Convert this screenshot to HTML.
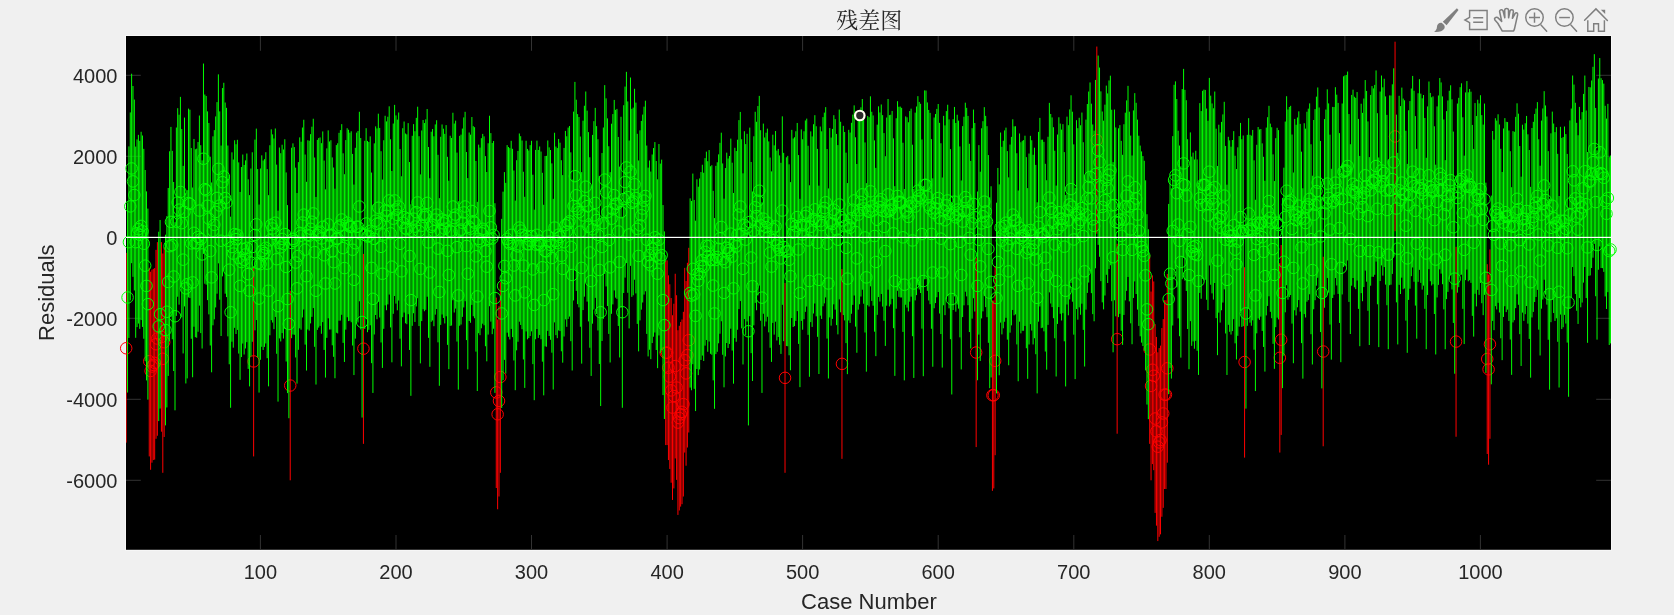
<!DOCTYPE html>
<html lang="zh">
<head>
<meta charset="utf-8">
<title>残差图</title>
<style>
  html, body { margin: 0; padding: 0; background: #f0f0f0; }
  body { width: 1674px; height: 615px; overflow: hidden; position: relative; }
  svg { position: absolute; left: 0; top: 0; display: block; will-change: transform; }
  .lbl { font-family: "Liberation Sans", sans-serif; fill: #262626; }
  .tick { font-size: 20px; }
  .axl { font-size: 22px; }
  .ttl { font-family: "Liberation Serif", "Noto Serif CJK SC", serif; font-size: 22px; fill: #262626; font-weight: 400; }
  .ico { fill: none; stroke: #7f7f7f; stroke-width: 1.45; stroke-linecap: round; stroke-linejoin: round; }
  .icb { fill: none; stroke: #7f7f7f; stroke-width: 1.45; stroke-linecap: butt; stroke-linejoin: miter; }
  .icf { fill: #7f7f7f; stroke: none; }
</style>
</head>
<body>
<svg width="1674" height="615" viewBox="0 0 1674 615">
  <defs>
    <clipPath id="axclip"><rect x="126" y="36" width="1485" height="513.8"/></clipPath>
  </defs>

  <!-- axes background -->
  <rect x="125.3" y="35.3" width="1486.4" height="515.2" fill="#fbfbfb"/>
  <rect x="126" y="36" width="1485" height="513.8" fill="#000"/>

  <!-- tick marks -->
  <g stroke="#333333" stroke-width="1" fill="none">
    <path d="M260.4 549.8v-14.8M396 549.8v-14.8M531.5 549.8v-14.8M667.1 549.8v-14.8M802.6 549.8v-14.8M938.2 549.8v-14.8M1073.8 549.8v-14.8M1209.3 549.8v-14.8M1344.9 549.8v-14.8M1480.4 549.8v-14.8"/>
    <path d="M260.4 36v14.8M396 36v14.8M531.5 36v14.8M667.1 36v14.8M802.6 36v14.8M938.2 36v14.8M1073.8 36v14.8M1209.3 36v14.8M1344.9 36v14.8M1480.4 36v14.8"/>
    <path d="M126 75.3h14.8M126 156.3h14.8M126 237.3h14.8M126 318.3h14.8M126 399.3h14.8M126 480.3h14.8"/>
    <path d="M1611 75.3h-14.8M1611 156.3h-14.8M1611 237.3h-14.8M1611 318.3h-14.8M1611 399.3h-14.8M1611 480.3h-14.8"/>
  </g>

  <!-- error bars : red (outliers) -->
  <g clip-path="url(#axclip)">
    <path stroke="#ff0000" stroke-width="1" fill="none" d="M126.2 252.89V442.63M149.25 267.68V456.41M150.6 271.73V469.77M151.96 269.7V462.68M153.31 268.89V460.05M154.67 268.08V459.64M156.02 249.86V438.79M157.38 242.16V435.75M161.45 242.16V431.7M162.8 253.5V472.81M164.16 247.43V436.97M253.63 266.66V456.41M290.23 290.76V480.3M363.43 253.91V443.85M496.28 297.64V488M497.64 319.51V509.26M498.99 306.15V496.5M500.35 282.25V472.81M665.73 260.38V445.07M667.09 260.38V445.07M668.44 275.37V460.05M669.8 284.28V468.96M671.16 298.05V482.73M672.51 315.26V499.94M673.87 303.72V488.4M675.22 273.75V458.43M676.58 295.22V479.89M677.93 330.25V514.93M679.29 325.79V510.47M680.64 321.94V506.62M682 319.51V504.19M683.36 311.82V496.5M684.71 267.88V452.56M686.07 281.04V465.72M687.42 262.81V447.5M688.78 247.83V432.51M785.03 283.06V472.81M841.96 269.09V458.84M976.17 257.75V447.09M992.43 300.48V490.83M993.79 300.48V488.4M995.15 266.06V455.19M1096.82 46.55V233.66M1117.15 243.78V433.73M1149.69 255.12V443.85M1151.04 291.57V480.3M1152.4 275.37V464.1M1153.75 281.44V470.18M1155.11 324.17V512.9M1156.46 336.93V525.66M1157.82 352.32V541.05M1159.17 348.07V536.8M1160.53 345.64V534.37M1161.89 328.02V516.75M1163.24 319.11V507.84M1164.6 300.28V489.01M1165.95 300.28V489.01M1167.31 273.95V462.68M1244.58 267.27V457.62M1279.82 263.02V452.56M1281.18 245V434.94M1323.2 256.74V446.28M1395.05 41.69V231.23M1456.05 246.82V436.76M1487.23 264.23V453.98M1488.59 274.56V464.71M1489.94 249.45V438.79"/>
  </g>
  <g fill="none" stroke="#ff0000" stroke-width="1">
<circle cx="126.2" cy="348.27" r="5.75"/>
<circle cx="149.25" cy="361.23" r="5.75"/>
<circle cx="150.6" cy="370.95" r="5.75"/>
<circle cx="151.96" cy="366.5" r="5.75"/>
<circle cx="153.31" cy="364.88" r="5.75"/>
<circle cx="154.67" cy="362.85" r="5.75"/>
<circle cx="156.02" cy="344.22" r="5.75"/>
<circle cx="157.38" cy="338.55" r="5.75"/>
<circle cx="161.45" cy="336.93" r="5.75"/>
<circle cx="162.8" cy="358.8" r="5.75"/>
<circle cx="164.16" cy="342.2" r="5.75"/>
<circle cx="253.63" cy="361.43" r="5.75"/>
<circle cx="290.23" cy="385.53" r="5.75"/>
<circle cx="363.43" cy="348.68" r="5.75"/>
<circle cx="496.28" cy="392.42" r="5.75"/>
<circle cx="497.64" cy="414.29" r="5.75"/>
<circle cx="498.99" cy="400.92" r="5.75"/>
<circle cx="500.35" cy="377.02" r="5.75"/>
<circle cx="665.73" cy="352.73" r="5.75"/>
<circle cx="667.09" cy="352.73" r="5.75"/>
<circle cx="668.44" cy="367.71" r="5.75"/>
<circle cx="669.8" cy="376.62" r="5.75"/>
<circle cx="671.16" cy="390.39" r="5.75"/>
<circle cx="672.51" cy="407.6" r="5.75"/>
<circle cx="673.87" cy="396.06" r="5.75"/>
<circle cx="675.22" cy="366.09" r="5.75"/>
<circle cx="676.58" cy="387.56" r="5.75"/>
<circle cx="677.93" cy="422.59" r="5.75"/>
<circle cx="679.29" cy="418.13" r="5.75"/>
<circle cx="680.64" cy="414.29" r="5.75"/>
<circle cx="682" cy="411.86" r="5.75"/>
<circle cx="683.36" cy="404.16" r="5.75"/>
<circle cx="684.71" cy="360.22" r="5.75"/>
<circle cx="686.07" cy="373.38" r="5.75"/>
<circle cx="687.42" cy="355.16" r="5.75"/>
<circle cx="688.78" cy="340.17" r="5.75"/>
<circle cx="785.03" cy="377.84" r="5.75"/>
<circle cx="841.96" cy="363.86" r="5.75"/>
<circle cx="976.17" cy="352.52" r="5.75"/>
<circle cx="992.43" cy="395.25" r="5.75"/>
<circle cx="993.79" cy="395.25" r="5.75"/>
<circle cx="995.15" cy="360.83" r="5.75"/>
<circle cx="1096.82" cy="140.1" r="5.75"/>
<circle cx="1117.15" cy="339.16" r="5.75"/>
<circle cx="1149.69" cy="349.49" r="5.75"/>
<circle cx="1151.04" cy="385.94" r="5.75"/>
<circle cx="1152.4" cy="369.74" r="5.75"/>
<circle cx="1153.75" cy="375.81" r="5.75"/>
<circle cx="1155.11" cy="418.54" r="5.75"/>
<circle cx="1156.46" cy="431.3" r="5.75"/>
<circle cx="1157.82" cy="446.69" r="5.75"/>
<circle cx="1159.17" cy="442.43" r="5.75"/>
<circle cx="1160.53" cy="440" r="5.75"/>
<circle cx="1161.89" cy="422.38" r="5.75"/>
<circle cx="1163.24" cy="413.48" r="5.75"/>
<circle cx="1164.6" cy="394.64" r="5.75"/>
<circle cx="1165.95" cy="394.64" r="5.75"/>
<circle cx="1167.31" cy="368.32" r="5.75"/>
<circle cx="1244.58" cy="362.04" r="5.75"/>
<circle cx="1279.82" cy="357.79" r="5.75"/>
<circle cx="1281.18" cy="339.76" r="5.75"/>
<circle cx="1323.2" cy="351.51" r="5.75"/>
<circle cx="1395.05" cy="136.46" r="5.75"/>
<circle cx="1456.05" cy="341.59" r="5.75"/>
<circle cx="1487.23" cy="359" r="5.75"/>
<circle cx="1488.59" cy="369.33" r="5.75"/>
<circle cx="1489.94" cy="344.22" r="5.75"/>
  </g>

  <!-- error bars : green -->
  <g clip-path="url(#axclip)">
    <path stroke="#00ff00" stroke-width="1" fill="none" d="M127.56 202.4V392.56M128.91 146.4V337.92M130.27 112.43V300.36M131.62 73.73V263.17M132.98 85.99V276.83M134.33 99.56V290.48M135.69 146.59V337.81M137.04 139.41V327.09M138.4 134.85V323.55M139.76 140.87V328.87M141.11 131.78V320.06M142.47 135.5V326.95M143.82 148.84V338.72M145.18 170.01V361.29M146.53 191.39V380.41M147.89 208.61V399.64M158.73 231.73V421.07M160.09 219.97V408.53M165.51 234.71V425.38M166.87 216.1V407.45M168.22 187.99V375.93M169.58 151.27V341.2M170.94 126.9V316.92M172.29 150.89V339.28M173.65 182.01V371.02M175 222.23V410.32M176.36 127.52V315.86M177.71 108.2V296.74M179.07 114.71V304.65M180.42 96.86V287.02M181.78 128.99V317.32M183.14 165.87V353.43M184.49 117.57V306.41M185.85 193.2V383.46M187.2 190.15V378.41M188.56 108.64V297.42M189.91 109.72V298.06M191.27 148.02V338.76M192.62 187.53V377.26M193.98 138.96V326.73M195.34 149.26V337.18M196.69 148.64V337.76M198.05 142.02V331.77M199.4 115.52V305.62M200.76 145.2V333.09M202.11 160.35V348.53M203.47 63.56V253.9M204.83 94.54V283.72M206.18 95.99V284.65M207.54 111.38V300.14M208.89 122.98V314.36M210.25 156.71V345.49M211.6 182.49V372.3M212.96 136.34V325.3M214.31 130.14V319.35M215.67 116.43V307.44M217.03 102.12V293.68M218.38 74.36V263.35M219.74 111.38V299.7M221.09 145.55V336.01M222.45 88.05V276.39M223.8 82.78V270.32M225.16 102.53V293.69M226.52 107.85V297.09M227.87 145.53V336.36M229.23 175.11V364.27M230.58 216.68V407.77M231.94 152.33V341.71M233.29 159.53V347.7M234.65 140.27V327.85M236 144.25V334M237.36 139.82V329.92M238.72 162.37V353.57M240.07 191.96V379.84M241.43 167.03V357.06M242.78 154.54V343.55M244.14 164.95V354.51M245.49 160.38V348.48M246.85 153.5V342.16M248.2 179.3V368.92M249.56 195.13V386.39M250.92 168.55V356.5M252.27 152.27V341.77M254.98 139.57V330.35M256.34 128.62V320.06M257.69 169.06V357.38M259.05 204.57V392.59M260.41 168.47V359.81M261.76 155.34V346.8M263.12 160.51V349.98M264.47 159.18V346.91M265.83 152.2V343.46M267.18 169.1V358.18M268.54 195.17V386.35M269.89 145.25V335.27M271.25 129.32V320.17M272.61 134.39V322.56M273.96 138.49V329.18M275.32 128.51V316.93M276.67 164.63V353.78M278.03 210.68V401.62M279.38 147.53V338.41M280.74 153.21V341.46M282.1 144.72V333.12M283.45 149.46V338.59M284.81 139.25V328.87M286.16 172.43V361.5M287.52 205.09V393.1M288.87 229.71V418.23M291.58 147.74V338.2M292.94 143.35V334.49M294.3 147.1V334.79M295.65 167.67V357.46M297.01 193.04V383.62M298.36 162.13V349.8M299.72 137.39V328.3M301.07 141.71V329.7M302.43 127.53V317.47M303.78 119.75V309.49M305.14 154.54V344.6M306.5 181.8V370.56M307.85 140.26V329.48M309.21 140.74V330.61M310.56 134.18V323.41M311.92 126.69V316.87M313.27 118.74V308.07M314.63 157.52V346.81M315.99 196.96V384.56M317.34 139.86V329.88M318.7 138.1V327.59M320.05 137.42V325.89M321.41 143.17V333.78M322.76 131.43V322.11M324.12 160.56V349.93M325.47 189.35V377.59M326.83 148.4V337.83M328.19 130.37V318.31M329.54 141.49V329.52M330.9 140.24V329.5M332.25 157.42V345.31M333.61 167.53V356.84M334.96 188.68V378.26M336.32 145.08V332.76M337.68 143.31V333.4M339.03 132.85V320.69M340.39 130.11V320.6M341.74 124.15V314.81M343.1 153.31V342.89M344.45 174.21V361.95M345.81 140.09V329.65M347.16 128.2V317.24M348.52 129.74V321.1M349.88 132.7V320.77M351.23 131.28V322.26M352.59 153.95V345.5M353.94 184.59V375.06M355.3 147.82V338.63M356.65 132.62V320.92M358.01 130.99V322.48M359.36 111.77V301.27M360.72 138.06V329.45M362.08 226.33V417.56M364.79 140.78V328.96M366.14 128.18V318.88M367.5 140.91V332.2M368.85 142.01V329.79M370.21 136.35V325.29M371.57 172.57V363.15M372.92 204.78V392.94M374.28 143.35V334.49M375.63 126.38V315.01M376.99 128.4V319.22M378.34 113.69V301.78M379.7 127.95V317.49M381.05 151.23V342.47M382.41 179.57V367.93M383.77 140.25V328.83M385.12 115.79V305.35M386.48 121.42V310.23M387.83 116.74V304.41M389.19 106.32V294.57M390.54 139.24V327.41M391.9 171.01V362.32M393.26 123.54V313.8M394.61 104.87V296.02M395.97 115.41V303.61M397.32 119.6V310.29M398.68 112.53V300.51M400.03 149.03V338.69M401.39 176.27V366.37M402.74 128.23V317.21M404.1 121.52V312.58M405.46 133.49V323.25M406.81 134.33V324.2M408.17 123.13V314.21M409.52 162.04V349.98M410.88 204.31V395.84M412.23 135.79V325.85M413.59 124.11V313.23M414.94 131.22V321.96M416.3 117.87V306.46M417.66 106.71V298.23M419.01 136.19V326.05M420.37 174.4V363.38M421.72 130.48V321.09M423.08 119.97V309.27M424.43 123.02V311.25M425.79 119.33V309.86M427.15 109.02V296.73M428.5 147V337.83M429.86 178.26V366.81M431.21 131.72V321.82M432.57 128.99V320.5M433.92 136.3V326.19M435.28 124.43V314.63M436.63 120.23V309.01M437.99 154.83V342.35M439.35 198.15V385.8M440.7 136.76V324.88M442.06 124.47V314.49M443.41 128.71V317.98M444.77 133.87V323.46M446.12 125.12V316.27M447.48 156.82V344.87M448.84 180.75V369.18M450.19 135.74V325.9M451.55 137.96V325.57M452.9 112.76V300.28M454.26 123.54V312.5M455.61 120.65V308.59M456.97 152.6V341.56M458.32 201.21V389.63M459.68 135.88V325.76M461.04 134.63V324.53M462.39 128.55V316.89M463.75 117.41V307.45M465.1 111.8V301.24M466.46 152.02V340.08M467.81 178.1V369.4M469.17 132.52V321.02M470.52 134.66V322.78M471.88 117.02V304.93M473.24 126.16V316.26M474.59 127.2V318.24M475.95 160.95V351.63M477.3 201.86V391M478.66 144.63V333.21M480.01 147.62V335.18M481.37 138.18V328.3M482.73 133.9V323.69M484.08 136.35V325.29M485.44 156.1V346.23M486.79 172.01V361.32M488.15 143.26V334.58M489.5 115.73V306.22M490.86 133.12V321.64M492.21 142.98V334.16M493.57 141.02V328.72M494.93 203.22V392.88M501.7 218.86V408.02M503.06 191.66V380.14M504.42 172.1V359.85M505.77 182.87V373.54M507.13 145.14V332.7M508.48 147.03V336.78M509.84 148.12V339.44M511.19 140.82V328.92M512.55 148.81V337.13M513.9 170.49V360.47M515.26 200.63V390.2M516.62 160.23V350.34M517.97 150.94V341.75M519.33 133.47V321.69M520.68 136.18V324.95M522.04 140.5V329.24M523.39 171.75V359.46M524.75 196.8V387.92M526.1 140.74V331.43M527.46 148.93V339.34M528.82 150.53V338.07M530.17 145.13V336.06M531.53 140.82V331.35M532.88 174.72V364.12M534.24 209.68V400.19M535.59 149.93V339.27M536.95 140.65V329.09M538.31 149.98V337.93M539.66 146.49V334.95M541.02 151.56V339.24M542.37 172.8V361.68M543.73 204.8V395.35M545.08 156.02V346.35M546.44 155.84V346.78M547.79 140.48V330.88M549.15 147.38V335.97M550.51 150.03V339.79M551.86 163.4V352.68M553.22 198.85V389.56M554.57 132.76V322.4M555.93 146.56V335.15M557.28 148.06V338.18M558.64 138.98V330.4M560 142.7V331.09M561.35 160.24V351.31M562.71 175.1V362.68M564.06 147.94V336.51M565.42 130.91V319.39M566.77 136.29V326.82M568.13 127.58V318.92M569.48 126.03V316.57M570.84 152.35V341.19M572.2 179.43V370.5M573.55 111.64V300.48M574.91 81.9V270.39M576.26 99.69V290.88M577.62 114.09V304.16M578.97 117.03V307.35M580.33 136.54V326.75M581.68 172.14V363.62M583.04 120.66V310.08M584.4 105.75V296.67M585.75 91.5V281.85M587.11 110.63V301.62M588.46 132.13V321.41M589.82 157.27V347.72M591.17 186.13V375.95M592.53 134.92V323.68M593.89 121.17V309.54M595.24 107.86V297.89M596.6 126.13V313.96M597.95 139.27V330.47M599.31 175.88V363.98M600.66 218.41V406.04M602.02 153.05V340.99M603.37 127.53V318.81M604.73 85.13V274.04M606.09 98.35V286.44M607.44 118.37V306.01M608.8 146.24V333.92M610.15 172.16V362.48M611.51 123.72V313.81M612.86 114.08V304.42M614.22 99.93V290.43M615.58 109.87V297.66M616.93 108.93V298.84M618.29 136.97V325.96M619.64 166.63V357.45M621 116.77V307.61M622.35 216.66V407.79M623.71 105.21V292.99M625.06 86.57V277.6M626.42 71.83V263.05M627.78 101.45V292.79M629.13 140.5V328.45M630.49 77.52V265.86M631.84 108.89V296.86M633.2 107.62V295.28M634.55 88.77V279.72M635.91 102.61V293.42M637.26 133.82V323.9M638.62 160.5V351.36M639.98 130.33V320.4M641.33 120.94V309.62M642.69 114.59V302.5M644.04 106.68V294.59M645.4 100.7V291.28M646.75 145.56V333.9M648.11 167.6V356.41M649.47 160.5V349.74M650.82 171.57V359.17M652.18 154.49V343.04M653.53 148.06V336.72M654.89 142.09V332.51M656.24 160.99V350M657.6 179.34V368.16M658.95 144.02V335.44M660.31 163.62V353.18M661.67 159.64V350.6M663.02 205.07V395.08M664.38 231.36V419.01M690.13 198.39V387.58M691.49 200.98V390.26M692.84 173.57V364.21M694.2 199.93V388.85M695.56 220.69V411.05M696.91 179.31V369M698.27 186.72V375.11M699.62 178.44V369.45M700.98 172.06V359.94M702.33 164.74V355.57M703.69 172.78V360.98M705.05 158.12V345.64M706.4 151.64V339.97M707.76 161.19V351.79M709.11 150.07V341.54M710.47 166.28V353.81M711.82 165.23V354.73M713.18 190.82V380.33M714.53 218.07V408.81M715.89 165.85V354.11M717.25 162.27V351.79M718.6 154.37V343.29M719.96 142.84V333.73M721.31 132.69V321.26M722.67 163.45V354.78M724.02 198.66V387.32M725.38 168.06V356.44M726.74 152.66V343M728.09 158.52V348.05M729.45 155.99V343.95M730.8 138.61V328.7M732.16 162.7V350.55M733.51 192.98V383.68M734.87 147.8V338.14M736.22 151.06V341.77M737.58 139.7V329.76M738.94 120.14V309.1M740.29 111.95V301.09M741.65 139.24V328.35M743 173.33V364.45M744.36 131.22V319.08M745.71 144.12V335.24M747.07 133.83V321.45M748.42 237.09V425.43M749.78 127.62V316.2M751.14 161.97V353.14M752.49 191.47V381.02M753.85 136.29V325.35M755.2 111.78V302.88M756.56 121.79V310.25M757.91 106.03V295.42M759.27 95.89V285.56M760.63 130.21V320.78M761.98 202.36V392.93M763.34 123.6V313.74M764.69 137.47V326.4M766.05 132.71V321.54M767.4 128.65V316.79M768.76 141.42V332.35M770.11 157.56V347.76M771.47 171.4V361.92M772.83 134.69V322.9M774.18 145.35V334.64M775.54 131.04V321.69M776.89 150.61V340.47M778.25 148.96V336.98M779.6 155.41V344.8M780.96 162.81V353.91M782.32 116.33V304.81M783.67 152.87V341.17M786.38 157.3V346.04M787.74 155.89V346.25M789.09 164.34V355.27M790.45 182.11V370.25M791.8 129.86V318.01M793.16 138.5V327.02M794.52 137.28V326.12M795.87 131.27V320.9M797.23 122.97V311.13M798.58 155.06V343.91M799.94 198.85V387.13M801.29 129.42V320.88M802.65 139.25V329.71M804 131.28V319.21M805.36 120.46V311.87M806.72 118.63V306.56M808.07 145.79V334.86M809.43 185.29V376.79M810.78 131.4V322.14M812.14 136.43V326.91M813.49 124.22V313.5M814.85 115.2V303.51M816.21 126.25V316.35M817.56 148.89V336.84M818.92 185.65V374M820.27 126.56V315.64M821.63 131.3V318.95M822.98 117.13V306.26M824.34 112.64V303.36M825.69 107.11V297.43M827.05 149.02V338.56M828.41 188.43V378.51M829.76 128.02V317.42M831.12 137.57V325.66M832.47 128.92V318.88M833.83 115.18V304.34M835.18 119.14V309.65M836.54 133.94V325.13M837.9 145.1V334.36M839.25 109.58V299.41M840.61 121.78V312.32M843.32 125.85V315.07M844.67 131.98V320.42M846.03 152.67V343.11M847.38 183.07V374.15M848.74 129.83V320.47M850.1 132.56V322.91M851.45 122.81V313.78M852.81 114.59V304.85M854.16 105.39V295.5M855.52 137.28V326.63M856.87 163.97V352.75M858.23 119.59V309.65M859.59 116.33V304.24M860.94 107.3V296.52M862.3 99.03V289.71M863.65 113.31V303.71M865.01 142.44V332.5M866.36 183.13V371.66M867.72 115.95V305.19M869.07 117.17V306.53M870.43 96.32V286.35M871.79 111.76V300.93M873.14 115.45V305.69M874.5 140.39V331.68M875.85 167.88V356.13M877.21 124.66V314.83M878.56 106.33V296.99M879.92 112.48V301.57M881.27 104.48V293.98M882.63 115.11V306.58M883.99 133.08V320.75M885.34 156.21V345.93M886.7 117.56V305.73M888.05 99.03V289.71M889.41 115.12V306.44M890.76 114.76V304.38M892.12 110.94V298.86M893.48 138.35V328.19M894.83 186.19V375.89M896.19 118.28V308.7M897.54 101.2V290.78M898.9 106.76V296.86M900.25 106.6V297.47M901.61 107.86V297.49M902.96 142.74V331.92M904.32 189.01V380.36M905.68 116.39V304.75M907.03 117.31V307.59M908.39 122.29V311.39M909.74 111.07V301.67M911.1 108.67V296.68M912.45 144.71V336.21M913.81 188.99V377.95M915.17 112.65V300.39M916.52 106.51V295.14M917.88 96.16V285.29M919.23 101.93V289.5M920.59 103.81V293.03M921.94 139.44V328.66M923.3 185.87V376.21M924.65 90.38V279.32M926.01 90.56V279.15M927.37 102.45V290.87M928.72 109.95V300.47M930.08 112.88V304.21M931.43 139.1V328.75M932.79 178.33V366.74M934.14 117.5V308.26M935.5 113.97V303.07M936.85 108.91V297.29M938.21 104V292.03M939.57 122.87V313.53M940.92 143.26V334.05M942.28 177.49V367.58M943.63 115.86V305.28M944.99 125.38V315.17M946.34 111.08V299.51M947.7 104.74V296.15M949.06 119.41V308.35M950.41 149.09V339.19M951.77 203.65V394.48M953.12 119.21V310.03M954.48 106.95V296.37M955.83 122.98V311.69M957.19 114.76V304.49M958.54 120.61V308.63M959.9 146.44V337.33M961.26 180.49V369.44M962.61 126.12V317.08M963.97 116.74V305.34M965.32 102.69V291.72M966.68 107.83V296.37M968.03 115.95V305.19M969.39 143.79V332.06M970.75 160.95V348.48M972.1 128.21V318.64M973.46 109.56V298.21M974.81 123.03V311.54M977.52 191.53V380.27M978.88 145.14V334.59M980.23 171.72V360.98M981.59 128.31V318.41M982.95 121.2V311.38M984.3 107.17V296.15M985.66 115.87V307.14M987.01 126.19V317.17M988.37 155.05V342.8M989.72 197.29V388.16M991.08 186.26V377.44M996.5 202.7V393.4M997.86 167.96V356.05M999.21 184.38V375.27M1000.57 132.54V322.62M1001.92 146.82V334.4M1003.28 140.76V328.32M1004.64 130.4V321.77M1005.99 127.63V317.81M1007.35 151.11V339.64M1008.7 177.36V365.28M1010.06 144.57V332.67M1011.41 136.9V325.36M1012.77 119.29V309.95M1014.12 126.38V315.3M1015.48 126.22V314.36M1016.84 153.24V344.42M1018.19 190.54V381.26M1019.55 133.48V321.68M1020.9 142.24V333.37M1022.26 140.81V330.79M1023.61 140.07V330.75M1024.97 135.71V325.93M1026.33 157.11V348.24M1027.68 188.12V378.82M1029.04 153.56V344.47M1030.39 135.85V324.17M1031.75 140.27V330.59M1033.1 154.78V344.45M1034.46 147.71V338.23M1035.81 164.92V354.21M1037.17 202.3V393.39M1038.53 131.9V321.66M1039.88 117.9V306.48M1041.24 139.69V328.15M1042.59 139.62V327.69M1043.95 141.86V331.37M1045.3 163.81V351.56M1046.66 180.26V369.67M1048.01 136.77V324.87M1049.37 102.86V292.36M1050.73 113.97V303.5M1052.08 117.43V307.13M1053.44 127.22V318.22M1054.79 150.73V338.27M1056.15 185.58V376.5M1057.5 134.52V323.93M1058.86 117.29V307.09M1060.22 123.57V313.78M1061.57 129.61V320.53M1062.93 124.15V313.19M1064.28 152.1V341.31M1065.64 195.06V386.46M1066.99 116.66V304.48M1068.35 125.2V315.3M1069.7 109.4V299.49M1071.06 95.29V282.92M1072.42 111.72V301.71M1073.77 144.37V334.65M1075.13 187.83V379.11M1076.48 120.19V309.05M1077.84 128.19V319.68M1079.19 117.77V307.36M1080.55 125.28V314.76M1081.91 112.56V303.72M1083.26 142.23V329.88M1084.62 176.11V366.53M1085.97 119.6V309.64M1087.33 104.03V292.92M1088.68 91.54V282.55M1090.04 82.46V271.45M1091.39 103.7V293.14M1092.75 124.48V314.12M1094.11 130.64V321.28M1095.46 79.94V268.3M1098.17 55.59V244.86M1099.53 67.56V256.79M1100.88 91.39V281.15M1102.24 111.5V302.37M1103.59 120.67V309.38M1104.95 104.67V295.53M1106.31 85.62V274.77M1107.66 93.42V282.97M1109.02 80.44V269.06M1110.37 75.69V265.26M1111.73 109.72V301.18M1113.08 162.14V352.3M1114.44 109.54V300.26M1115.8 127.43V316.29M1118.51 128.32V317.12M1119.86 125.12V313.84M1121.22 140.87V330.76M1122.57 154.81V344.9M1123.93 124.24V314.94M1125.28 112.68V300.36M1126.64 100.41V290.86M1128 85.86V276.96M1129.35 111.66V301.38M1130.71 135.6V323.32M1132.06 155.49V344.22M1133.42 110.43V297.97M1134.77 93.14V281.42M1136.13 102.8V294.04M1137.49 119.63V309.61M1138.84 135.73V325.91M1140.2 145.59V336.3M1141.55 151.42V342.62M1142.91 156.07V346.07M1144.26 160.76V350.77M1145.62 180.34V370.4M1146.97 214.22V404.56M1148.33 229.21V419.14M1168.66 203.93V394.2M1170.02 179.56V367.94M1171.38 188.36V378.58M1172.73 136.14V325.5M1174.09 84.82V275.42M1175.44 81.37V269.3M1176.8 99.03V287.28M1178.15 130.72V318.39M1179.51 145.56V336.21M1180.86 166.4V357.61M1182.22 89.06V279.23M1183.58 68.88V257.89M1184.93 89.83V280.67M1186.29 100.23V290.94M1187.64 139.23V329.02M1189 180.69V369.24M1190.35 132.4V321.14M1191.71 156.61V345.83M1193.07 152.62V341.42M1194.42 159.51V348.77M1195.78 150.75V340.86M1197.13 159.47V350.77M1198.49 187.17V374.91M1199.84 103.11V292.92M1201.2 111.07V298.75M1202.55 90.85V278.85M1203.91 89.62V280.42M1205.27 89.93V279.78M1206.62 108.55V299.79M1207.98 120.77V310.09M1209.33 77.9V265.48M1210.69 95.66V284.74M1212.04 103.46V293.38M1213.4 108.27V299.58M1214.75 91.54V283.03M1216.11 128.68V318.12M1217.47 165.99V355.18M1218.82 124.71V312.63M1220.18 132.46V322.59M1221.53 121.9V310.28M1222.89 114.42V302.55M1224.24 101.8V289.37M1225.6 145.95V333.49M1226.96 184.68V374.97M1228.31 136.82V324.82M1229.67 140.37V331.8M1231.02 146.68V334.55M1232.38 140.03V331.07M1233.73 131.13V319.17M1235.09 155.76V343.34M1236.44 169.02V359.45M1237.8 147.32V335.82M1239.16 136.14V326.63M1240.51 122.91V311.19M1241.87 139.23V326.95M1243.22 135.5V326.14M1245.93 218.24V408.64M1247.29 134.86V325.84M1248.65 118.17V308.64M1250 134.81V322.66M1251.36 135.66V325.72M1252.71 129.96V320.34M1254.07 160.33V349.71M1255.42 199.77V391.06M1256.78 144.81V333.35M1258.13 127.01V318.43M1259.49 129.44V319.86M1260.85 129.05V316.61M1262.2 143.37V330.94M1263.56 156.81V346.96M1264.91 180.77V371.59M1266.27 127.59V315.42M1267.62 117.16V305.93M1268.98 105.82V296.29M1270.33 123.64V311.83M1271.69 127.22V318.22M1273.05 154.37V343.85M1274.4 181.09V368.84M1275.76 138.18V327.18M1277.11 127.8V317.64M1278.47 130.15V319.45M1282.54 197.86V388.12M1283.89 167.68V355.79M1285.25 121.55V312.3M1286.6 96.23V285.22M1287.96 109.5V299.63M1289.31 107V297.07M1290.67 105.84V295.05M1292.02 134.53V323.61M1293.38 172.53V363.23M1294.74 118.95V310.29M1296.09 124.75V315.44M1297.45 117.5V307.31M1298.8 111.36V300.06M1300.16 123.88V311.64M1301.51 151.66V343.12M1302.87 188.29V378.65M1304.23 123.24V314.1M1305.58 128.63V317.49M1306.94 111.75V301.72M1308.29 108.63V300.1M1309.65 103.38V294.27M1311 144.27V334.22M1312.36 175.72V364.49M1313.71 119.99V309.25M1315.07 109.09V300.2M1316.43 96.66V285.7M1317.78 87.48V277.77M1319.14 107.49V297.45M1320.49 140.91V332.05M1321.85 197.59V388.38M1324.56 119.07V307.74M1325.91 109.54V297.06M1327.27 89.35V277.93M1328.63 103.39V292.62M1329.98 134.67V324.56M1331.34 168.82V359.64M1332.69 106.92V298.02M1334.05 107.04V294.73M1335.4 87.18V278.07M1336.76 94.67V285.47M1338.12 102.91V293.93M1339.47 133.11V322.94M1340.83 173.57V362.19M1342.18 103.49V294.45M1343.54 76.3V267.08M1344.89 75.46V265.75M1346.25 74.92V266.13M1347.6 71.56V260.48M1348.96 114.06V301.92M1350.32 144.24V334M1351.67 94.95V285.69M1353.03 89.68V278M1354.38 96.74V287.3M1355.74 97.87V289.16M1357.09 92.04V280.5M1358.45 118.93V308.9M1359.81 155.94V346.2M1361.16 103.72V293.12M1362.52 112.87V301.22M1363.87 98.52V287.07M1365.23 80.06V270.61M1366.58 90.96V281.68M1367.94 121.43V310.81M1369.29 157.13V345.01M1370.65 94.93V285.71M1372.01 86.09V276.73M1373.36 88.39V276.85M1374.72 84.9V274.77M1376.07 70.45V261.59M1377.43 113.19V304.29M1378.78 157.47V347.1M1380.14 91.55V280.99M1381.49 75.52V265.43M1382.85 87.33V275.61M1384.21 78.76V267.05M1385.56 96.39V284.64M1386.92 114.87V305.22M1388.27 160.22V349.21M1389.63 95.42V285.22M1390.98 95.54V284.68M1392.34 84.32V273.93M1393.7 68.32V256.43M1396.41 114.65V302.35M1397.76 152.86V344.42M1399.12 95.81V284.83M1400.47 106.08V294.03M1401.83 87.59V277.66M1403.18 98.57V289.28M1404.54 100.3V288.44M1405.9 130.72V320.65M1407.25 163.9V352.82M1408.61 110.29V299.91M1409.96 101.09V288.69M1411.32 88.52V276.17M1412.67 75.93V267.45M1414.03 90.76V281.78M1415.39 116.09V305.58M1416.74 148.87V338.69M1418.1 93.25V281.83M1419.45 79.19V269.86M1420.81 93.64V282.88M1422.16 98.3V289.65M1423.52 95.01V285.63M1424.87 117.97V308.8M1426.23 157.79V349.21M1427.59 106.43V294.97M1428.94 81.5V269.17M1430.3 92.93V281.26M1431.65 97.28V285.53M1433.01 96.39V284.25M1434.36 126.29V314.01M1435.72 164.69V354.46M1437.07 106.41V297.45M1438.43 95.5V284.87M1439.79 78.04V269.39M1441.14 82.43V273.63M1442.5 96.43V284.21M1443.85 119.44V309.37M1445.21 160.15V349.28M1446.56 111.13V299.13M1447.92 100.48V291.88M1449.28 90.75V279.3M1450.63 85.29V275.1M1451.99 99.33V289.44M1453.34 131.58V322.97M1454.7 183.5V373.72M1457.41 103.55V292.66M1458.76 97.83V287.16M1460.12 87.2V275.36M1461.48 83.27V274.69M1462.83 117.31V308.84M1464.19 155.65V344.06M1465.54 92.43V280.11M1466.9 81.06V269.61M1468.25 92.33V281.27M1469.61 89.03V280.2M1470.97 91.69V282.87M1472.32 124.95V315.86M1473.68 148.91V336.62M1475.03 103.07V293.77M1476.39 116.05V306.44M1477.74 99.75V289.88M1479.1 103.37V294.87M1480.45 95.23V282.98M1481.81 115.11V303.21M1483.17 124.6V315.17M1484.52 103.57V294.89M1485.88 182.67V372.93M1491.3 195.59V384.31M1492.65 131V320.92M1494.01 139.58V330.16M1495.37 118.22V306.16M1496.72 120.61V309.44M1498.08 114.27V302.82M1499.43 124.49V312.51M1500.79 148.8V338.27M1502.14 171.96V360.15M1503.5 128.48V316.96M1504.86 118.14V306.24M1506.21 121.81V312.07M1507.57 122.05V309.62M1508.92 130.5V320.92M1510.28 151.19V339.5M1511.63 187.21V374.87M1512.99 131.13V322.41M1514.34 131.79V320.2M1515.7 116.86V308.16M1517.06 103.31V294.34M1518.41 113.68V304.8M1519.77 146.07V334.15M1521.12 176.66V365.98M1522.48 124.72V312.62M1523.83 129.57V320.85M1525.19 123.27V314.2M1526.55 115.95V306M1527.9 134.3V323.65M1529.26 150.02V338.91M1530.61 186.83V377.68M1531.97 128V317.44M1533.32 121.85V311.91M1534.68 113.94V302.03M1536.03 108.55V296.97M1537.39 102.12V289.86M1538.75 139.27V329.67M1540.1 165.71V355.47M1541.46 120.57V308.67M1542.81 108.48V299.52M1544.17 91.16V279.76M1545.52 105.44V294.63M1546.88 116.5V304.64M1548.23 151.16V339.77M1549.59 198.74V389.66M1550.95 133.33V322.2M1552.3 111.61V299.81M1553.66 123.52V313.03M1555.01 132.14V320.94M1556.37 127.13V318.31M1557.72 153.83V341.8M1559.08 196.03V387.51M1560.44 126.82V314.57M1561.79 137.94V329.08M1563.15 137.04V327.26M1564.5 126.51V314.88M1565.86 134.09V323.54M1567.21 153.91V342.58M1568.57 208.23V396.78M1569.92 120.45V308.79M1571.28 108.55V297.54M1572.64 75.52V267.05M1573.99 84.57V276.13M1575.35 102.79V294.05M1576.7 122.84V310.75M1578.06 135.26V323.95M1579.41 106.9V298.04M1580.77 119.55V307.3M1582.13 112.1V302.56M1583.48 93.91V282.62M1584.84 75.55V267.02M1586.19 110.49V298.07M1587.55 152.03V342.82M1588.9 86.96V275.86M1590.26 87.35V275.43M1591.61 80.49V268.01M1592.97 66.8V257.69M1594.33 54.19V243.83M1595.68 107.95V296.22M1597.04 150.36V339.63M1598.39 78.52V269.72M1599.75 58.05V246.45M1601.1 78.21V268.03M1602.46 80.08V268.16M1603.81 83.64V271.89M1605.17 105.81V296.45M1606.53 118.61V309.01M1607.88 103.86V292.17M1609.24 157.15V344.99M1610.59 155.52V343.38"/>
  </g>
  <g fill="none" stroke="#00ff00" stroke-width="1">
<circle cx="127.56" cy="297.48" r="5.75"/>
<circle cx="128.91" cy="242.16" r="5.75"/>
<circle cx="130.27" cy="206.4" r="5.75"/>
<circle cx="131.62" cy="168.45" r="5.75"/>
<circle cx="132.98" cy="181.41" r="5.75"/>
<circle cx="134.33" cy="195.02" r="5.75"/>
<circle cx="135.69" cy="242.2" r="5.75"/>
<circle cx="137.04" cy="233.25" r="5.75"/>
<circle cx="138.4" cy="229.2" r="5.75"/>
<circle cx="139.76" cy="234.87" r="5.75"/>
<circle cx="141.11" cy="225.92" r="5.75"/>
<circle cx="142.47" cy="231.23" r="5.75"/>
<circle cx="143.82" cy="243.78" r="5.75"/>
<circle cx="145.18" cy="265.65" r="5.75"/>
<circle cx="146.53" cy="285.9" r="5.75"/>
<circle cx="147.89" cy="304.12" r="5.75"/>
<circle cx="158.73" cy="326.4" r="5.75"/>
<circle cx="160.09" cy="314.25" r="5.75"/>
<circle cx="165.51" cy="330.05" r="5.75"/>
<circle cx="166.87" cy="311.77" r="5.75"/>
<circle cx="168.22" cy="281.96" r="5.75"/>
<circle cx="169.58" cy="246.24" r="5.75"/>
<circle cx="170.94" cy="221.91" r="5.75"/>
<circle cx="172.29" cy="245.08" r="5.75"/>
<circle cx="173.65" cy="276.52" r="5.75"/>
<circle cx="175" cy="316.28" r="5.75"/>
<circle cx="176.36" cy="221.69" r="5.75"/>
<circle cx="177.71" cy="202.47" r="5.75"/>
<circle cx="179.07" cy="209.68" r="5.75"/>
<circle cx="180.42" cy="191.94" r="5.75"/>
<circle cx="181.78" cy="223.15" r="5.75"/>
<circle cx="183.14" cy="259.65" r="5.75"/>
<circle cx="184.49" cy="211.99" r="5.75"/>
<circle cx="185.85" cy="288.33" r="5.75"/>
<circle cx="187.2" cy="284.28" r="5.75"/>
<circle cx="188.56" cy="203.03" r="5.75"/>
<circle cx="189.91" cy="203.89" r="5.75"/>
<circle cx="191.27" cy="243.39" r="5.75"/>
<circle cx="192.62" cy="282.39" r="5.75"/>
<circle cx="193.98" cy="232.84" r="5.75"/>
<circle cx="195.34" cy="243.22" r="5.75"/>
<circle cx="196.69" cy="243.2" r="5.75"/>
<circle cx="198.05" cy="236.9" r="5.75"/>
<circle cx="199.4" cy="210.57" r="5.75"/>
<circle cx="200.76" cy="239.15" r="5.75"/>
<circle cx="202.11" cy="254.44" r="5.75"/>
<circle cx="203.47" cy="158.73" r="5.75"/>
<circle cx="204.83" cy="189.13" r="5.75"/>
<circle cx="206.18" cy="190.32" r="5.75"/>
<circle cx="207.54" cy="205.76" r="5.75"/>
<circle cx="208.89" cy="218.67" r="5.75"/>
<circle cx="210.25" cy="251.1" r="5.75"/>
<circle cx="211.6" cy="277.39" r="5.75"/>
<circle cx="212.96" cy="230.82" r="5.75"/>
<circle cx="214.31" cy="224.75" r="5.75"/>
<circle cx="215.67" cy="211.93" r="5.75"/>
<circle cx="217.03" cy="197.9" r="5.75"/>
<circle cx="218.38" cy="168.86" r="5.75"/>
<circle cx="219.74" cy="205.54" r="5.75"/>
<circle cx="221.09" cy="240.78" r="5.75"/>
<circle cx="222.45" cy="182.22" r="5.75"/>
<circle cx="223.8" cy="176.55" r="5.75"/>
<circle cx="225.16" cy="198.11" r="5.75"/>
<circle cx="226.52" cy="202.47" r="5.75"/>
<circle cx="227.87" cy="240.95" r="5.75"/>
<circle cx="229.23" cy="269.69" r="5.75"/>
<circle cx="230.58" cy="312.23" r="5.75"/>
<circle cx="231.94" cy="247.02" r="5.75"/>
<circle cx="233.29" cy="253.61" r="5.75"/>
<circle cx="234.65" cy="234.06" r="5.75"/>
<circle cx="236" cy="239.13" r="5.75"/>
<circle cx="237.36" cy="234.87" r="5.75"/>
<circle cx="238.72" cy="257.97" r="5.75"/>
<circle cx="240.07" cy="285.9" r="5.75"/>
<circle cx="241.43" cy="262.04" r="5.75"/>
<circle cx="242.78" cy="249.05" r="5.75"/>
<circle cx="244.14" cy="259.73" r="5.75"/>
<circle cx="245.49" cy="254.43" r="5.75"/>
<circle cx="246.85" cy="247.83" r="5.75"/>
<circle cx="248.2" cy="274.11" r="5.75"/>
<circle cx="249.56" cy="290.76" r="5.75"/>
<circle cx="250.92" cy="262.53" r="5.75"/>
<circle cx="252.27" cy="247.02" r="5.75"/>
<circle cx="254.98" cy="234.96" r="5.75"/>
<circle cx="256.34" cy="224.34" r="5.75"/>
<circle cx="257.69" cy="263.22" r="5.75"/>
<circle cx="259.05" cy="298.58" r="5.75"/>
<circle cx="260.41" cy="264.14" r="5.75"/>
<circle cx="261.76" cy="251.07" r="5.75"/>
<circle cx="263.12" cy="255.24" r="5.75"/>
<circle cx="264.47" cy="253.04" r="5.75"/>
<circle cx="265.83" cy="247.83" r="5.75"/>
<circle cx="267.18" cy="263.64" r="5.75"/>
<circle cx="268.54" cy="290.76" r="5.75"/>
<circle cx="269.89" cy="240.26" r="5.75"/>
<circle cx="271.25" cy="224.75" r="5.75"/>
<circle cx="272.61" cy="228.47" r="5.75"/>
<circle cx="273.96" cy="233.84" r="5.75"/>
<circle cx="275.32" cy="222.72" r="5.75"/>
<circle cx="276.67" cy="259.21" r="5.75"/>
<circle cx="278.03" cy="306.15" r="5.75"/>
<circle cx="279.38" cy="242.97" r="5.75"/>
<circle cx="280.74" cy="247.33" r="5.75"/>
<circle cx="282.1" cy="238.92" r="5.75"/>
<circle cx="283.45" cy="244.02" r="5.75"/>
<circle cx="284.81" cy="234.06" r="5.75"/>
<circle cx="286.16" cy="266.97" r="5.75"/>
<circle cx="287.52" cy="299.09" r="5.75"/>
<circle cx="288.87" cy="323.97" r="5.75"/>
<circle cx="291.58" cy="242.97" r="5.75"/>
<circle cx="292.94" cy="238.92" r="5.75"/>
<circle cx="294.3" cy="240.95" r="5.75"/>
<circle cx="295.65" cy="262.57" r="5.75"/>
<circle cx="297.01" cy="288.33" r="5.75"/>
<circle cx="298.36" cy="255.97" r="5.75"/>
<circle cx="299.72" cy="232.84" r="5.75"/>
<circle cx="301.07" cy="235.71" r="5.75"/>
<circle cx="302.43" cy="222.5" r="5.75"/>
<circle cx="303.78" cy="214.62" r="5.75"/>
<circle cx="305.14" cy="249.57" r="5.75"/>
<circle cx="306.5" cy="276.18" r="5.75"/>
<circle cx="307.85" cy="234.87" r="5.75"/>
<circle cx="309.21" cy="235.67" r="5.75"/>
<circle cx="310.56" cy="228.8" r="5.75"/>
<circle cx="311.92" cy="221.78" r="5.75"/>
<circle cx="313.27" cy="213.41" r="5.75"/>
<circle cx="314.63" cy="252.17" r="5.75"/>
<circle cx="315.99" cy="290.76" r="5.75"/>
<circle cx="317.34" cy="234.87" r="5.75"/>
<circle cx="318.7" cy="232.84" r="5.75"/>
<circle cx="320.05" cy="231.66" r="5.75"/>
<circle cx="321.41" cy="238.48" r="5.75"/>
<circle cx="322.76" cy="226.77" r="5.75"/>
<circle cx="324.12" cy="255.25" r="5.75"/>
<circle cx="325.47" cy="283.47" r="5.75"/>
<circle cx="326.83" cy="243.12" r="5.75"/>
<circle cx="328.19" cy="224.34" r="5.75"/>
<circle cx="329.54" cy="235.51" r="5.75"/>
<circle cx="330.9" cy="234.87" r="5.75"/>
<circle cx="332.25" cy="251.37" r="5.75"/>
<circle cx="333.61" cy="262.18" r="5.75"/>
<circle cx="334.96" cy="283.47" r="5.75"/>
<circle cx="336.32" cy="238.92" r="5.75"/>
<circle cx="337.68" cy="238.36" r="5.75"/>
<circle cx="339.03" cy="226.77" r="5.75"/>
<circle cx="340.39" cy="225.35" r="5.75"/>
<circle cx="341.74" cy="219.48" r="5.75"/>
<circle cx="343.1" cy="248.1" r="5.75"/>
<circle cx="344.45" cy="268.08" r="5.75"/>
<circle cx="345.81" cy="234.87" r="5.75"/>
<circle cx="347.16" cy="222.72" r="5.75"/>
<circle cx="348.52" cy="225.42" r="5.75"/>
<circle cx="349.88" cy="226.74" r="5.75"/>
<circle cx="351.23" cy="226.77" r="5.75"/>
<circle cx="352.59" cy="249.73" r="5.75"/>
<circle cx="353.94" cy="279.82" r="5.75"/>
<circle cx="355.3" cy="243.22" r="5.75"/>
<circle cx="356.65" cy="226.77" r="5.75"/>
<circle cx="358.01" cy="226.74" r="5.75"/>
<circle cx="359.36" cy="206.52" r="5.75"/>
<circle cx="360.72" cy="233.75" r="5.75"/>
<circle cx="362.08" cy="321.94" r="5.75"/>
<circle cx="364.79" cy="234.87" r="5.75"/>
<circle cx="366.14" cy="223.53" r="5.75"/>
<circle cx="367.5" cy="236.56" r="5.75"/>
<circle cx="368.85" cy="235.9" r="5.75"/>
<circle cx="370.21" cy="230.82" r="5.75"/>
<circle cx="371.57" cy="267.86" r="5.75"/>
<circle cx="372.92" cy="298.86" r="5.75"/>
<circle cx="374.28" cy="238.92" r="5.75"/>
<circle cx="375.63" cy="220.7" r="5.75"/>
<circle cx="376.99" cy="223.81" r="5.75"/>
<circle cx="378.34" cy="207.74" r="5.75"/>
<circle cx="379.7" cy="222.72" r="5.75"/>
<circle cx="381.05" cy="246.85" r="5.75"/>
<circle cx="382.41" cy="273.75" r="5.75"/>
<circle cx="383.77" cy="234.54" r="5.75"/>
<circle cx="385.12" cy="210.57" r="5.75"/>
<circle cx="386.48" cy="215.82" r="5.75"/>
<circle cx="387.83" cy="210.57" r="5.75"/>
<circle cx="389.19" cy="200.44" r="5.75"/>
<circle cx="390.54" cy="233.33" r="5.75"/>
<circle cx="391.9" cy="266.66" r="5.75"/>
<circle cx="393.26" cy="218.67" r="5.75"/>
<circle cx="394.61" cy="200.44" r="5.75"/>
<circle cx="395.97" cy="209.51" r="5.75"/>
<circle cx="397.32" cy="214.95" r="5.75"/>
<circle cx="398.68" cy="206.52" r="5.75"/>
<circle cx="400.03" cy="243.86" r="5.75"/>
<circle cx="401.39" cy="271.32" r="5.75"/>
<circle cx="402.74" cy="222.72" r="5.75"/>
<circle cx="404.1" cy="217.05" r="5.75"/>
<circle cx="405.46" cy="228.37" r="5.75"/>
<circle cx="406.81" cy="229.26" r="5.75"/>
<circle cx="408.17" cy="218.67" r="5.75"/>
<circle cx="409.52" cy="256.01" r="5.75"/>
<circle cx="410.88" cy="300.07" r="5.75"/>
<circle cx="412.23" cy="230.82" r="5.75"/>
<circle cx="413.59" cy="218.67" r="5.75"/>
<circle cx="414.94" cy="226.59" r="5.75"/>
<circle cx="416.3" cy="212.16" r="5.75"/>
<circle cx="417.66" cy="202.47" r="5.75"/>
<circle cx="419.01" cy="231.12" r="5.75"/>
<circle cx="420.37" cy="268.89" r="5.75"/>
<circle cx="421.72" cy="225.78" r="5.75"/>
<circle cx="423.08" cy="214.62" r="5.75"/>
<circle cx="424.43" cy="217.13" r="5.75"/>
<circle cx="425.79" cy="214.59" r="5.75"/>
<circle cx="427.15" cy="202.88" r="5.75"/>
<circle cx="428.5" cy="242.42" r="5.75"/>
<circle cx="429.86" cy="272.54" r="5.75"/>
<circle cx="431.21" cy="226.77" r="5.75"/>
<circle cx="432.57" cy="224.75" r="5.75"/>
<circle cx="433.92" cy="231.24" r="5.75"/>
<circle cx="435.28" cy="219.53" r="5.75"/>
<circle cx="436.63" cy="214.62" r="5.75"/>
<circle cx="437.99" cy="248.59" r="5.75"/>
<circle cx="439.35" cy="291.98" r="5.75"/>
<circle cx="440.7" cy="230.82" r="5.75"/>
<circle cx="442.06" cy="219.48" r="5.75"/>
<circle cx="443.41" cy="223.34" r="5.75"/>
<circle cx="444.77" cy="228.66" r="5.75"/>
<circle cx="446.12" cy="220.7" r="5.75"/>
<circle cx="447.48" cy="250.84" r="5.75"/>
<circle cx="448.84" cy="274.97" r="5.75"/>
<circle cx="450.19" cy="230.82" r="5.75"/>
<circle cx="451.55" cy="231.76" r="5.75"/>
<circle cx="452.9" cy="206.52" r="5.75"/>
<circle cx="454.26" cy="218.02" r="5.75"/>
<circle cx="455.61" cy="214.62" r="5.75"/>
<circle cx="456.97" cy="247.08" r="5.75"/>
<circle cx="458.32" cy="295.42" r="5.75"/>
<circle cx="459.68" cy="230.82" r="5.75"/>
<circle cx="461.04" cy="229.58" r="5.75"/>
<circle cx="462.39" cy="222.72" r="5.75"/>
<circle cx="463.75" cy="212.43" r="5.75"/>
<circle cx="465.1" cy="206.52" r="5.75"/>
<circle cx="466.46" cy="246.05" r="5.75"/>
<circle cx="467.81" cy="273.75" r="5.75"/>
<circle cx="469.17" cy="226.77" r="5.75"/>
<circle cx="470.52" cy="228.72" r="5.75"/>
<circle cx="471.88" cy="210.98" r="5.75"/>
<circle cx="473.24" cy="221.21" r="5.75"/>
<circle cx="474.59" cy="222.72" r="5.75"/>
<circle cx="475.95" cy="256.29" r="5.75"/>
<circle cx="477.3" cy="296.43" r="5.75"/>
<circle cx="478.66" cy="238.92" r="5.75"/>
<circle cx="480.01" cy="241.4" r="5.75"/>
<circle cx="481.37" cy="233.24" r="5.75"/>
<circle cx="482.73" cy="228.8" r="5.75"/>
<circle cx="484.08" cy="230.82" r="5.75"/>
<circle cx="485.44" cy="251.16" r="5.75"/>
<circle cx="486.79" cy="266.66" r="5.75"/>
<circle cx="488.15" cy="238.92" r="5.75"/>
<circle cx="489.5" cy="210.98" r="5.75"/>
<circle cx="490.86" cy="227.38" r="5.75"/>
<circle cx="492.21" cy="238.57" r="5.75"/>
<circle cx="493.57" cy="234.87" r="5.75"/>
<circle cx="494.93" cy="298.05" r="5.75"/>
<circle cx="501.7" cy="313.44" r="5.75"/>
<circle cx="503.06" cy="285.9" r="5.75"/>
<circle cx="504.42" cy="265.98" r="5.75"/>
<circle cx="505.77" cy="278.21" r="5.75"/>
<circle cx="507.13" cy="238.92" r="5.75"/>
<circle cx="508.48" cy="241.91" r="5.75"/>
<circle cx="509.84" cy="243.78" r="5.75"/>
<circle cx="511.19" cy="234.87" r="5.75"/>
<circle cx="512.55" cy="242.97" r="5.75"/>
<circle cx="513.9" cy="265.48" r="5.75"/>
<circle cx="515.26" cy="295.42" r="5.75"/>
<circle cx="516.62" cy="255.29" r="5.75"/>
<circle cx="517.97" cy="246.35" r="5.75"/>
<circle cx="519.33" cy="227.58" r="5.75"/>
<circle cx="520.68" cy="230.57" r="5.75"/>
<circle cx="522.04" cy="234.87" r="5.75"/>
<circle cx="523.39" cy="265.61" r="5.75"/>
<circle cx="524.75" cy="292.36" r="5.75"/>
<circle cx="526.1" cy="236.09" r="5.75"/>
<circle cx="527.46" cy="244.14" r="5.75"/>
<circle cx="528.82" cy="244.3" r="5.75"/>
<circle cx="530.17" cy="240.6" r="5.75"/>
<circle cx="531.53" cy="236.09" r="5.75"/>
<circle cx="532.88" cy="269.42" r="5.75"/>
<circle cx="534.24" cy="304.94" r="5.75"/>
<circle cx="535.59" cy="244.6" r="5.75"/>
<circle cx="536.95" cy="234.87" r="5.75"/>
<circle cx="538.31" cy="243.95" r="5.75"/>
<circle cx="539.66" cy="240.72" r="5.75"/>
<circle cx="541.02" cy="245.4" r="5.75"/>
<circle cx="542.37" cy="267.24" r="5.75"/>
<circle cx="543.73" cy="300.07" r="5.75"/>
<circle cx="545.08" cy="251.18" r="5.75"/>
<circle cx="546.44" cy="251.31" r="5.75"/>
<circle cx="547.79" cy="235.68" r="5.75"/>
<circle cx="549.15" cy="241.68" r="5.75"/>
<circle cx="550.51" cy="244.91" r="5.75"/>
<circle cx="551.86" cy="258.04" r="5.75"/>
<circle cx="553.22" cy="294.2" r="5.75"/>
<circle cx="554.57" cy="227.58" r="5.75"/>
<circle cx="555.93" cy="240.86" r="5.75"/>
<circle cx="557.28" cy="243.12" r="5.75"/>
<circle cx="558.64" cy="234.69" r="5.75"/>
<circle cx="560" cy="236.9" r="5.75"/>
<circle cx="561.35" cy="255.78" r="5.75"/>
<circle cx="562.71" cy="268.89" r="5.75"/>
<circle cx="564.06" cy="242.22" r="5.75"/>
<circle cx="565.42" cy="225.15" r="5.75"/>
<circle cx="566.77" cy="231.55" r="5.75"/>
<circle cx="568.13" cy="223.25" r="5.75"/>
<circle cx="569.48" cy="221.3" r="5.75"/>
<circle cx="570.84" cy="246.77" r="5.75"/>
<circle cx="572.2" cy="274.97" r="5.75"/>
<circle cx="573.55" cy="206.06" r="5.75"/>
<circle cx="574.91" cy="176.15" r="5.75"/>
<circle cx="576.26" cy="195.29" r="5.75"/>
<circle cx="577.62" cy="209.13" r="5.75"/>
<circle cx="578.97" cy="212.19" r="5.75"/>
<circle cx="580.33" cy="231.65" r="5.75"/>
<circle cx="581.68" cy="267.88" r="5.75"/>
<circle cx="583.04" cy="215.37" r="5.75"/>
<circle cx="584.4" cy="201.21" r="5.75"/>
<circle cx="585.75" cy="186.68" r="5.75"/>
<circle cx="587.11" cy="206.13" r="5.75"/>
<circle cx="588.46" cy="226.77" r="5.75"/>
<circle cx="589.82" cy="252.5" r="5.75"/>
<circle cx="591.17" cy="281.04" r="5.75"/>
<circle cx="592.53" cy="229.3" r="5.75"/>
<circle cx="593.89" cy="215.36" r="5.75"/>
<circle cx="595.24" cy="202.88" r="5.75"/>
<circle cx="596.6" cy="220.04" r="5.75"/>
<circle cx="597.95" cy="234.87" r="5.75"/>
<circle cx="599.31" cy="269.93" r="5.75"/>
<circle cx="600.66" cy="312.23" r="5.75"/>
<circle cx="602.02" cy="247.02" r="5.75"/>
<circle cx="603.37" cy="223.17" r="5.75"/>
<circle cx="604.73" cy="179.59" r="5.75"/>
<circle cx="606.09" cy="192.4" r="5.75"/>
<circle cx="607.44" cy="212.19" r="5.75"/>
<circle cx="608.8" cy="240.08" r="5.75"/>
<circle cx="610.15" cy="267.32" r="5.75"/>
<circle cx="611.51" cy="218.76" r="5.75"/>
<circle cx="612.86" cy="209.25" r="5.75"/>
<circle cx="614.22" cy="195.18" r="5.75"/>
<circle cx="615.58" cy="203.76" r="5.75"/>
<circle cx="616.93" cy="203.89" r="5.75"/>
<circle cx="618.29" cy="231.47" r="5.75"/>
<circle cx="619.64" cy="262.04" r="5.75"/>
<circle cx="621" cy="212.19" r="5.75"/>
<circle cx="622.35" cy="312.23" r="5.75"/>
<circle cx="623.71" cy="199.1" r="5.75"/>
<circle cx="625.06" cy="182.09" r="5.75"/>
<circle cx="626.42" cy="167.44" r="5.75"/>
<circle cx="627.78" cy="197.12" r="5.75"/>
<circle cx="629.13" cy="234.48" r="5.75"/>
<circle cx="630.49" cy="171.69" r="5.75"/>
<circle cx="631.84" cy="202.88" r="5.75"/>
<circle cx="633.2" cy="201.45" r="5.75"/>
<circle cx="634.55" cy="184.25" r="5.75"/>
<circle cx="635.91" cy="198.02" r="5.75"/>
<circle cx="637.26" cy="228.86" r="5.75"/>
<circle cx="638.62" cy="255.93" r="5.75"/>
<circle cx="639.98" cy="225.37" r="5.75"/>
<circle cx="641.33" cy="215.28" r="5.75"/>
<circle cx="642.69" cy="208.55" r="5.75"/>
<circle cx="644.04" cy="200.64" r="5.75"/>
<circle cx="645.4" cy="195.99" r="5.75"/>
<circle cx="646.75" cy="239.73" r="5.75"/>
<circle cx="648.11" cy="262" r="5.75"/>
<circle cx="649.47" cy="255.12" r="5.75"/>
<circle cx="650.82" cy="265.37" r="5.75"/>
<circle cx="652.18" cy="248.77" r="5.75"/>
<circle cx="653.53" cy="242.39" r="5.75"/>
<circle cx="654.89" cy="237.3" r="5.75"/>
<circle cx="656.24" cy="255.49" r="5.75"/>
<circle cx="657.6" cy="273.75" r="5.75"/>
<circle cx="658.95" cy="239.73" r="5.75"/>
<circle cx="660.31" cy="258.4" r="5.75"/>
<circle cx="661.67" cy="255.12" r="5.75"/>
<circle cx="663.02" cy="300.07" r="5.75"/>
<circle cx="664.38" cy="325.19" r="5.75"/>
<circle cx="690.13" cy="292.99" r="5.75"/>
<circle cx="691.49" cy="295.62" r="5.75"/>
<circle cx="692.84" cy="268.89" r="5.75"/>
<circle cx="694.2" cy="294.39" r="5.75"/>
<circle cx="695.56" cy="315.87" r="5.75"/>
<circle cx="696.91" cy="274.16" r="5.75"/>
<circle cx="698.27" cy="280.92" r="5.75"/>
<circle cx="699.62" cy="273.94" r="5.75"/>
<circle cx="700.98" cy="266" r="5.75"/>
<circle cx="702.33" cy="260.15" r="5.75"/>
<circle cx="703.69" cy="266.88" r="5.75"/>
<circle cx="705.05" cy="251.88" r="5.75"/>
<circle cx="706.4" cy="245.81" r="5.75"/>
<circle cx="707.76" cy="256.49" r="5.75"/>
<circle cx="709.11" cy="245.81" r="5.75"/>
<circle cx="710.47" cy="260.04" r="5.75"/>
<circle cx="711.82" cy="259.98" r="5.75"/>
<circle cx="713.18" cy="285.58" r="5.75"/>
<circle cx="714.53" cy="313.44" r="5.75"/>
<circle cx="715.89" cy="259.98" r="5.75"/>
<circle cx="717.25" cy="257.03" r="5.75"/>
<circle cx="718.6" cy="248.83" r="5.75"/>
<circle cx="719.96" cy="238.28" r="5.75"/>
<circle cx="721.31" cy="226.97" r="5.75"/>
<circle cx="722.67" cy="259.11" r="5.75"/>
<circle cx="724.02" cy="292.99" r="5.75"/>
<circle cx="725.38" cy="262.25" r="5.75"/>
<circle cx="726.74" cy="247.83" r="5.75"/>
<circle cx="728.09" cy="253.29" r="5.75"/>
<circle cx="729.45" cy="249.97" r="5.75"/>
<circle cx="730.8" cy="233.66" r="5.75"/>
<circle cx="732.16" cy="256.63" r="5.75"/>
<circle cx="733.51" cy="288.33" r="5.75"/>
<circle cx="734.87" cy="242.97" r="5.75"/>
<circle cx="736.22" cy="246.42" r="5.75"/>
<circle cx="737.58" cy="234.73" r="5.75"/>
<circle cx="738.94" cy="214.62" r="5.75"/>
<circle cx="740.29" cy="206.52" r="5.75"/>
<circle cx="741.65" cy="233.79" r="5.75"/>
<circle cx="743" cy="268.89" r="5.75"/>
<circle cx="744.36" cy="225.15" r="5.75"/>
<circle cx="745.71" cy="239.68" r="5.75"/>
<circle cx="747.07" cy="227.64" r="5.75"/>
<circle cx="748.42" cy="331.26" r="5.75"/>
<circle cx="749.78" cy="221.91" r="5.75"/>
<circle cx="751.14" cy="257.56" r="5.75"/>
<circle cx="752.49" cy="286.24" r="5.75"/>
<circle cx="753.85" cy="230.82" r="5.75"/>
<circle cx="755.2" cy="207.33" r="5.75"/>
<circle cx="756.56" cy="216.02" r="5.75"/>
<circle cx="757.91" cy="200.72" r="5.75"/>
<circle cx="759.27" cy="190.73" r="5.75"/>
<circle cx="760.63" cy="225.49" r="5.75"/>
<circle cx="761.98" cy="297.64" r="5.75"/>
<circle cx="763.34" cy="218.67" r="5.75"/>
<circle cx="764.69" cy="231.94" r="5.75"/>
<circle cx="766.05" cy="227.12" r="5.75"/>
<circle cx="767.4" cy="222.72" r="5.75"/>
<circle cx="768.76" cy="236.88" r="5.75"/>
<circle cx="770.11" cy="252.66" r="5.75"/>
<circle cx="771.47" cy="266.66" r="5.75"/>
<circle cx="772.83" cy="228.8" r="5.75"/>
<circle cx="774.18" cy="239.99" r="5.75"/>
<circle cx="775.54" cy="226.37" r="5.75"/>
<circle cx="776.89" cy="245.54" r="5.75"/>
<circle cx="778.25" cy="242.97" r="5.75"/>
<circle cx="779.6" cy="250.1" r="5.75"/>
<circle cx="780.96" cy="258.36" r="5.75"/>
<circle cx="782.32" cy="210.57" r="5.75"/>
<circle cx="783.67" cy="247.02" r="5.75"/>
<circle cx="786.38" cy="251.67" r="5.75"/>
<circle cx="787.74" cy="251.07" r="5.75"/>
<circle cx="789.09" cy="259.81" r="5.75"/>
<circle cx="790.45" cy="276.18" r="5.75"/>
<circle cx="791.8" cy="223.94" r="5.75"/>
<circle cx="793.16" cy="232.76" r="5.75"/>
<circle cx="794.52" cy="231.7" r="5.75"/>
<circle cx="795.87" cy="226.08" r="5.75"/>
<circle cx="797.23" cy="217.05" r="5.75"/>
<circle cx="798.58" cy="249.49" r="5.75"/>
<circle cx="799.94" cy="292.99" r="5.75"/>
<circle cx="801.29" cy="225.15" r="5.75"/>
<circle cx="802.65" cy="234.48" r="5.75"/>
<circle cx="804" cy="225.25" r="5.75"/>
<circle cx="805.36" cy="216.16" r="5.75"/>
<circle cx="806.72" cy="212.59" r="5.75"/>
<circle cx="808.07" cy="240.33" r="5.75"/>
<circle cx="809.43" cy="281.04" r="5.75"/>
<circle cx="810.78" cy="226.77" r="5.75"/>
<circle cx="812.14" cy="231.67" r="5.75"/>
<circle cx="813.49" cy="218.86" r="5.75"/>
<circle cx="814.85" cy="209.36" r="5.75"/>
<circle cx="816.21" cy="221.3" r="5.75"/>
<circle cx="817.56" cy="242.87" r="5.75"/>
<circle cx="818.92" cy="279.82" r="5.75"/>
<circle cx="820.27" cy="221.1" r="5.75"/>
<circle cx="821.63" cy="225.13" r="5.75"/>
<circle cx="822.98" cy="211.69" r="5.75"/>
<circle cx="824.34" cy="208" r="5.75"/>
<circle cx="825.69" cy="202.27" r="5.75"/>
<circle cx="827.05" cy="243.79" r="5.75"/>
<circle cx="828.41" cy="283.47" r="5.75"/>
<circle cx="829.76" cy="222.72" r="5.75"/>
<circle cx="831.12" cy="231.62" r="5.75"/>
<circle cx="832.47" cy="223.9" r="5.75"/>
<circle cx="833.83" cy="209.76" r="5.75"/>
<circle cx="835.18" cy="214.39" r="5.75"/>
<circle cx="836.54" cy="229.54" r="5.75"/>
<circle cx="837.9" cy="239.73" r="5.75"/>
<circle cx="839.25" cy="204.5" r="5.75"/>
<circle cx="840.61" cy="217.05" r="5.75"/>
<circle cx="843.32" cy="220.46" r="5.75"/>
<circle cx="844.67" cy="226.2" r="5.75"/>
<circle cx="846.03" cy="247.89" r="5.75"/>
<circle cx="847.38" cy="278.61" r="5.75"/>
<circle cx="848.74" cy="225.15" r="5.75"/>
<circle cx="850.1" cy="227.73" r="5.75"/>
<circle cx="851.45" cy="218.29" r="5.75"/>
<circle cx="852.81" cy="209.72" r="5.75"/>
<circle cx="854.16" cy="200.44" r="5.75"/>
<circle cx="855.52" cy="231.96" r="5.75"/>
<circle cx="856.87" cy="258.36" r="5.75"/>
<circle cx="858.23" cy="214.62" r="5.75"/>
<circle cx="859.59" cy="210.29" r="5.75"/>
<circle cx="860.94" cy="201.91" r="5.75"/>
<circle cx="862.3" cy="194.37" r="5.75"/>
<circle cx="863.65" cy="208.51" r="5.75"/>
<circle cx="865.01" cy="237.47" r="5.75"/>
<circle cx="866.36" cy="277.39" r="5.75"/>
<circle cx="867.72" cy="210.57" r="5.75"/>
<circle cx="869.07" cy="211.85" r="5.75"/>
<circle cx="870.43" cy="191.33" r="5.75"/>
<circle cx="871.79" cy="206.35" r="5.75"/>
<circle cx="873.14" cy="210.57" r="5.75"/>
<circle cx="874.5" cy="236.04" r="5.75"/>
<circle cx="875.85" cy="262" r="5.75"/>
<circle cx="877.21" cy="219.74" r="5.75"/>
<circle cx="878.56" cy="201.66" r="5.75"/>
<circle cx="879.92" cy="207.03" r="5.75"/>
<circle cx="881.27" cy="199.23" r="5.75"/>
<circle cx="882.63" cy="210.85" r="5.75"/>
<circle cx="883.99" cy="226.91" r="5.75"/>
<circle cx="885.34" cy="251.07" r="5.75"/>
<circle cx="886.7" cy="211.64" r="5.75"/>
<circle cx="888.05" cy="194.37" r="5.75"/>
<circle cx="889.41" cy="210.78" r="5.75"/>
<circle cx="890.76" cy="209.57" r="5.75"/>
<circle cx="892.12" cy="204.9" r="5.75"/>
<circle cx="893.48" cy="233.27" r="5.75"/>
<circle cx="894.83" cy="281.04" r="5.75"/>
<circle cx="896.19" cy="213.49" r="5.75"/>
<circle cx="897.54" cy="195.99" r="5.75"/>
<circle cx="898.9" cy="201.81" r="5.75"/>
<circle cx="900.25" cy="202.03" r="5.75"/>
<circle cx="901.61" cy="202.67" r="5.75"/>
<circle cx="902.96" cy="237.33" r="5.75"/>
<circle cx="904.32" cy="284.69" r="5.75"/>
<circle cx="905.68" cy="210.57" r="5.75"/>
<circle cx="907.03" cy="212.45" r="5.75"/>
<circle cx="908.39" cy="216.84" r="5.75"/>
<circle cx="909.74" cy="206.37" r="5.75"/>
<circle cx="911.1" cy="202.67" r="5.75"/>
<circle cx="912.45" cy="240.46" r="5.75"/>
<circle cx="913.81" cy="283.47" r="5.75"/>
<circle cx="915.17" cy="206.52" r="5.75"/>
<circle cx="916.52" cy="200.83" r="5.75"/>
<circle cx="917.88" cy="190.73" r="5.75"/>
<circle cx="919.23" cy="195.72" r="5.75"/>
<circle cx="920.59" cy="198.42" r="5.75"/>
<circle cx="921.94" cy="234.05" r="5.75"/>
<circle cx="923.3" cy="281.04" r="5.75"/>
<circle cx="924.65" cy="184.85" r="5.75"/>
<circle cx="926.01" cy="184.85" r="5.75"/>
<circle cx="927.37" cy="196.66" r="5.75"/>
<circle cx="928.72" cy="205.21" r="5.75"/>
<circle cx="930.08" cy="208.55" r="5.75"/>
<circle cx="931.43" cy="233.93" r="5.75"/>
<circle cx="932.79" cy="272.54" r="5.75"/>
<circle cx="934.14" cy="212.88" r="5.75"/>
<circle cx="935.5" cy="208.52" r="5.75"/>
<circle cx="936.85" cy="203.1" r="5.75"/>
<circle cx="938.21" cy="198.02" r="5.75"/>
<circle cx="939.57" cy="218.2" r="5.75"/>
<circle cx="940.92" cy="238.66" r="5.75"/>
<circle cx="942.28" cy="272.54" r="5.75"/>
<circle cx="943.63" cy="210.57" r="5.75"/>
<circle cx="944.99" cy="220.27" r="5.75"/>
<circle cx="946.34" cy="205.3" r="5.75"/>
<circle cx="947.7" cy="200.44" r="5.75"/>
<circle cx="949.06" cy="213.88" r="5.75"/>
<circle cx="950.41" cy="244.14" r="5.75"/>
<circle cx="951.77" cy="299.06" r="5.75"/>
<circle cx="953.12" cy="214.62" r="5.75"/>
<circle cx="954.48" cy="201.66" r="5.75"/>
<circle cx="955.83" cy="217.33" r="5.75"/>
<circle cx="957.19" cy="209.63" r="5.75"/>
<circle cx="958.54" cy="214.62" r="5.75"/>
<circle cx="959.9" cy="241.88" r="5.75"/>
<circle cx="961.26" cy="274.97" r="5.75"/>
<circle cx="962.61" cy="221.6" r="5.75"/>
<circle cx="963.97" cy="211.04" r="5.75"/>
<circle cx="965.32" cy="197.21" r="5.75"/>
<circle cx="966.68" cy="202.1" r="5.75"/>
<circle cx="968.03" cy="210.57" r="5.75"/>
<circle cx="969.39" cy="237.92" r="5.75"/>
<circle cx="970.75" cy="254.72" r="5.75"/>
<circle cx="972.1" cy="223.43" r="5.75"/>
<circle cx="973.46" cy="203.89" r="5.75"/>
<circle cx="974.81" cy="217.28" r="5.75"/>
<circle cx="977.52" cy="285.9" r="5.75"/>
<circle cx="978.88" cy="239.87" r="5.75"/>
<circle cx="980.23" cy="266.35" r="5.75"/>
<circle cx="981.59" cy="223.36" r="5.75"/>
<circle cx="982.95" cy="216.29" r="5.75"/>
<circle cx="984.3" cy="201.66" r="5.75"/>
<circle cx="985.66" cy="211.51" r="5.75"/>
<circle cx="987.01" cy="221.68" r="5.75"/>
<circle cx="988.37" cy="248.92" r="5.75"/>
<circle cx="989.72" cy="292.73" r="5.75"/>
<circle cx="991.08" cy="281.85" r="5.75"/>
<circle cx="996.5" cy="298.05" r="5.75"/>
<circle cx="997.86" cy="262" r="5.75"/>
<circle cx="999.21" cy="279.82" r="5.75"/>
<circle cx="1000.57" cy="227.58" r="5.75"/>
<circle cx="1001.92" cy="240.61" r="5.75"/>
<circle cx="1003.28" cy="234.54" r="5.75"/>
<circle cx="1004.64" cy="226.08" r="5.75"/>
<circle cx="1005.99" cy="222.72" r="5.75"/>
<circle cx="1007.35" cy="245.38" r="5.75"/>
<circle cx="1008.7" cy="271.32" r="5.75"/>
<circle cx="1010.06" cy="238.62" r="5.75"/>
<circle cx="1011.41" cy="231.13" r="5.75"/>
<circle cx="1012.77" cy="214.62" r="5.75"/>
<circle cx="1014.12" cy="220.84" r="5.75"/>
<circle cx="1015.48" cy="220.29" r="5.75"/>
<circle cx="1016.84" cy="248.83" r="5.75"/>
<circle cx="1018.19" cy="285.9" r="5.75"/>
<circle cx="1019.55" cy="227.58" r="5.75"/>
<circle cx="1020.9" cy="237.8" r="5.75"/>
<circle cx="1022.26" cy="235.8" r="5.75"/>
<circle cx="1023.61" cy="235.41" r="5.75"/>
<circle cx="1024.97" cy="230.82" r="5.75"/>
<circle cx="1026.33" cy="252.68" r="5.75"/>
<circle cx="1027.68" cy="283.47" r="5.75"/>
<circle cx="1029.04" cy="249.01" r="5.75"/>
<circle cx="1030.39" cy="230.01" r="5.75"/>
<circle cx="1031.75" cy="235.43" r="5.75"/>
<circle cx="1033.1" cy="249.62" r="5.75"/>
<circle cx="1034.46" cy="242.97" r="5.75"/>
<circle cx="1035.81" cy="259.57" r="5.75"/>
<circle cx="1037.17" cy="297.85" r="5.75"/>
<circle cx="1038.53" cy="226.78" r="5.75"/>
<circle cx="1039.88" cy="212.19" r="5.75"/>
<circle cx="1041.24" cy="233.92" r="5.75"/>
<circle cx="1042.59" cy="233.66" r="5.75"/>
<circle cx="1043.95" cy="236.61" r="5.75"/>
<circle cx="1045.3" cy="257.69" r="5.75"/>
<circle cx="1046.66" cy="274.97" r="5.75"/>
<circle cx="1048.01" cy="230.82" r="5.75"/>
<circle cx="1049.37" cy="197.61" r="5.75"/>
<circle cx="1050.73" cy="208.74" r="5.75"/>
<circle cx="1052.08" cy="212.28" r="5.75"/>
<circle cx="1053.44" cy="222.72" r="5.75"/>
<circle cx="1054.79" cy="244.5" r="5.75"/>
<circle cx="1056.15" cy="281.04" r="5.75"/>
<circle cx="1057.5" cy="229.22" r="5.75"/>
<circle cx="1058.86" cy="212.19" r="5.75"/>
<circle cx="1060.22" cy="218.67" r="5.75"/>
<circle cx="1061.57" cy="225.07" r="5.75"/>
<circle cx="1062.93" cy="218.67" r="5.75"/>
<circle cx="1064.28" cy="246.7" r="5.75"/>
<circle cx="1065.64" cy="290.76" r="5.75"/>
<circle cx="1066.99" cy="210.57" r="5.75"/>
<circle cx="1068.35" cy="220.25" r="5.75"/>
<circle cx="1069.7" cy="204.44" r="5.75"/>
<circle cx="1071.06" cy="189.11" r="5.75"/>
<circle cx="1072.42" cy="206.71" r="5.75"/>
<circle cx="1073.77" cy="239.51" r="5.75"/>
<circle cx="1075.13" cy="283.47" r="5.75"/>
<circle cx="1076.48" cy="214.62" r="5.75"/>
<circle cx="1077.84" cy="223.94" r="5.75"/>
<circle cx="1079.19" cy="212.57" r="5.75"/>
<circle cx="1080.55" cy="220.02" r="5.75"/>
<circle cx="1081.91" cy="208.14" r="5.75"/>
<circle cx="1083.26" cy="236.05" r="5.75"/>
<circle cx="1084.62" cy="271.32" r="5.75"/>
<circle cx="1085.97" cy="214.62" r="5.75"/>
<circle cx="1087.33" cy="198.48" r="5.75"/>
<circle cx="1088.68" cy="187.04" r="5.75"/>
<circle cx="1090.04" cy="176.96" r="5.75"/>
<circle cx="1091.39" cy="198.42" r="5.75"/>
<circle cx="1092.75" cy="219.3" r="5.75"/>
<circle cx="1094.11" cy="225.96" r="5.75"/>
<circle cx="1095.46" cy="174.12" r="5.75"/>
<circle cx="1098.17" cy="150.23" r="5.75"/>
<circle cx="1099.53" cy="162.17" r="5.75"/>
<circle cx="1100.88" cy="186.27" r="5.75"/>
<circle cx="1102.24" cy="206.93" r="5.75"/>
<circle cx="1103.59" cy="215.03" r="5.75"/>
<circle cx="1104.95" cy="200.1" r="5.75"/>
<circle cx="1106.31" cy="180.19" r="5.75"/>
<circle cx="1107.66" cy="188.19" r="5.75"/>
<circle cx="1109.02" cy="174.75" r="5.75"/>
<circle cx="1110.37" cy="170.48" r="5.75"/>
<circle cx="1111.73" cy="205.45" r="5.75"/>
<circle cx="1113.08" cy="257.22" r="5.75"/>
<circle cx="1114.44" cy="204.9" r="5.75"/>
<circle cx="1115.8" cy="221.86" r="5.75"/>
<circle cx="1118.51" cy="222.72" r="5.75"/>
<circle cx="1119.86" cy="219.48" r="5.75"/>
<circle cx="1121.22" cy="235.81" r="5.75"/>
<circle cx="1122.57" cy="249.86" r="5.75"/>
<circle cx="1123.93" cy="219.59" r="5.75"/>
<circle cx="1125.28" cy="206.52" r="5.75"/>
<circle cx="1126.64" cy="195.63" r="5.75"/>
<circle cx="1128" cy="181.41" r="5.75"/>
<circle cx="1129.35" cy="206.52" r="5.75"/>
<circle cx="1130.71" cy="229.46" r="5.75"/>
<circle cx="1132.06" cy="249.86" r="5.75"/>
<circle cx="1133.42" cy="204.2" r="5.75"/>
<circle cx="1134.77" cy="187.28" r="5.75"/>
<circle cx="1136.13" cy="198.42" r="5.75"/>
<circle cx="1137.49" cy="214.62" r="5.75"/>
<circle cx="1138.84" cy="230.82" r="5.75"/>
<circle cx="1140.2" cy="240.95" r="5.75"/>
<circle cx="1141.55" cy="247.02" r="5.75"/>
<circle cx="1142.91" cy="251.07" r="5.75"/>
<circle cx="1144.26" cy="255.77" r="5.75"/>
<circle cx="1145.62" cy="275.37" r="5.75"/>
<circle cx="1146.97" cy="309.39" r="5.75"/>
<circle cx="1148.33" cy="324.17" r="5.75"/>
<circle cx="1168.66" cy="299.06" r="5.75"/>
<circle cx="1170.02" cy="273.75" r="5.75"/>
<circle cx="1171.38" cy="283.47" r="5.75"/>
<circle cx="1172.73" cy="230.82" r="5.75"/>
<circle cx="1174.09" cy="180.12" r="5.75"/>
<circle cx="1175.44" cy="175.34" r="5.75"/>
<circle cx="1176.8" cy="193.16" r="5.75"/>
<circle cx="1178.15" cy="224.56" r="5.75"/>
<circle cx="1179.51" cy="240.89" r="5.75"/>
<circle cx="1180.86" cy="262" r="5.75"/>
<circle cx="1182.22" cy="184.15" r="5.75"/>
<circle cx="1183.58" cy="163.39" r="5.75"/>
<circle cx="1184.93" cy="185.25" r="5.75"/>
<circle cx="1186.29" cy="195.59" r="5.75"/>
<circle cx="1187.64" cy="234.13" r="5.75"/>
<circle cx="1189" cy="274.97" r="5.75"/>
<circle cx="1190.35" cy="226.77" r="5.75"/>
<circle cx="1191.71" cy="251.22" r="5.75"/>
<circle cx="1193.07" cy="247.02" r="5.75"/>
<circle cx="1194.42" cy="254.14" r="5.75"/>
<circle cx="1195.78" cy="245.81" r="5.75"/>
<circle cx="1197.13" cy="255.12" r="5.75"/>
<circle cx="1198.49" cy="281.04" r="5.75"/>
<circle cx="1199.84" cy="198.02" r="5.75"/>
<circle cx="1201.2" cy="204.91" r="5.75"/>
<circle cx="1202.55" cy="184.85" r="5.75"/>
<circle cx="1203.91" cy="185.02" r="5.75"/>
<circle cx="1205.27" cy="184.85" r="5.75"/>
<circle cx="1206.62" cy="204.17" r="5.75"/>
<circle cx="1207.98" cy="215.43" r="5.75"/>
<circle cx="1209.33" cy="171.69" r="5.75"/>
<circle cx="1210.69" cy="190.2" r="5.75"/>
<circle cx="1212.04" cy="198.42" r="5.75"/>
<circle cx="1213.4" cy="203.92" r="5.75"/>
<circle cx="1214.75" cy="187.28" r="5.75"/>
<circle cx="1216.11" cy="223.4" r="5.75"/>
<circle cx="1217.47" cy="260.59" r="5.75"/>
<circle cx="1218.82" cy="218.67" r="5.75"/>
<circle cx="1220.18" cy="227.53" r="5.75"/>
<circle cx="1221.53" cy="216.09" r="5.75"/>
<circle cx="1222.89" cy="208.48" r="5.75"/>
<circle cx="1224.24" cy="195.59" r="5.75"/>
<circle cx="1225.6" cy="239.72" r="5.75"/>
<circle cx="1226.96" cy="279.82" r="5.75"/>
<circle cx="1228.31" cy="230.82" r="5.75"/>
<circle cx="1229.67" cy="236.09" r="5.75"/>
<circle cx="1231.02" cy="240.61" r="5.75"/>
<circle cx="1232.38" cy="235.55" r="5.75"/>
<circle cx="1233.73" cy="225.15" r="5.75"/>
<circle cx="1235.09" cy="249.55" r="5.75"/>
<circle cx="1236.44" cy="264.23" r="5.75"/>
<circle cx="1237.8" cy="241.57" r="5.75"/>
<circle cx="1239.16" cy="231.38" r="5.75"/>
<circle cx="1240.51" cy="217.05" r="5.75"/>
<circle cx="1241.87" cy="233.09" r="5.75"/>
<circle cx="1243.22" cy="230.82" r="5.75"/>
<circle cx="1245.93" cy="313.44" r="5.75"/>
<circle cx="1247.29" cy="230.35" r="5.75"/>
<circle cx="1248.65" cy="213.41" r="5.75"/>
<circle cx="1250" cy="228.74" r="5.75"/>
<circle cx="1251.36" cy="230.69" r="5.75"/>
<circle cx="1252.71" cy="225.15" r="5.75"/>
<circle cx="1254.07" cy="255.02" r="5.75"/>
<circle cx="1255.42" cy="295.42" r="5.75"/>
<circle cx="1256.78" cy="239.08" r="5.75"/>
<circle cx="1258.13" cy="222.72" r="5.75"/>
<circle cx="1259.49" cy="224.65" r="5.75"/>
<circle cx="1260.85" cy="222.83" r="5.75"/>
<circle cx="1262.2" cy="237.16" r="5.75"/>
<circle cx="1263.56" cy="251.89" r="5.75"/>
<circle cx="1264.91" cy="276.18" r="5.75"/>
<circle cx="1266.27" cy="221.51" r="5.75"/>
<circle cx="1267.62" cy="211.54" r="5.75"/>
<circle cx="1268.98" cy="201.05" r="5.75"/>
<circle cx="1270.33" cy="217.74" r="5.75"/>
<circle cx="1271.69" cy="222.72" r="5.75"/>
<circle cx="1273.05" cy="249.11" r="5.75"/>
<circle cx="1274.4" cy="274.97" r="5.75"/>
<circle cx="1275.76" cy="232.68" r="5.75"/>
<circle cx="1277.11" cy="222.72" r="5.75"/>
<circle cx="1278.47" cy="224.8" r="5.75"/>
<circle cx="1282.54" cy="292.99" r="5.75"/>
<circle cx="1283.89" cy="261.73" r="5.75"/>
<circle cx="1285.25" cy="216.93" r="5.75"/>
<circle cx="1286.6" cy="190.73" r="5.75"/>
<circle cx="1287.96" cy="204.56" r="5.75"/>
<circle cx="1289.31" cy="202.04" r="5.75"/>
<circle cx="1290.67" cy="200.44" r="5.75"/>
<circle cx="1292.02" cy="229.07" r="5.75"/>
<circle cx="1293.38" cy="267.88" r="5.75"/>
<circle cx="1294.74" cy="214.62" r="5.75"/>
<circle cx="1296.09" cy="220.09" r="5.75"/>
<circle cx="1297.45" cy="212.4" r="5.75"/>
<circle cx="1298.8" cy="205.71" r="5.75"/>
<circle cx="1300.16" cy="217.76" r="5.75"/>
<circle cx="1301.51" cy="247.39" r="5.75"/>
<circle cx="1302.87" cy="283.47" r="5.75"/>
<circle cx="1304.23" cy="218.67" r="5.75"/>
<circle cx="1305.58" cy="223.06" r="5.75"/>
<circle cx="1306.94" cy="206.74" r="5.75"/>
<circle cx="1308.29" cy="204.37" r="5.75"/>
<circle cx="1309.65" cy="198.83" r="5.75"/>
<circle cx="1311" cy="239.24" r="5.75"/>
<circle cx="1312.36" cy="270.11" r="5.75"/>
<circle cx="1313.71" cy="214.62" r="5.75"/>
<circle cx="1315.07" cy="204.64" r="5.75"/>
<circle cx="1316.43" cy="191.18" r="5.75"/>
<circle cx="1317.78" cy="182.62" r="5.75"/>
<circle cx="1319.14" cy="202.47" r="5.75"/>
<circle cx="1320.49" cy="236.48" r="5.75"/>
<circle cx="1321.85" cy="292.99" r="5.75"/>
<circle cx="1324.56" cy="213.41" r="5.75"/>
<circle cx="1325.91" cy="203.3" r="5.75"/>
<circle cx="1327.27" cy="183.64" r="5.75"/>
<circle cx="1328.63" cy="198" r="5.75"/>
<circle cx="1329.98" cy="229.61" r="5.75"/>
<circle cx="1331.34" cy="264.23" r="5.75"/>
<circle cx="1332.69" cy="202.47" r="5.75"/>
<circle cx="1334.05" cy="200.88" r="5.75"/>
<circle cx="1335.4" cy="182.62" r="5.75"/>
<circle cx="1336.76" cy="190.07" r="5.75"/>
<circle cx="1338.12" cy="198.42" r="5.75"/>
<circle cx="1339.47" cy="228.02" r="5.75"/>
<circle cx="1340.83" cy="267.88" r="5.75"/>
<circle cx="1342.18" cy="198.97" r="5.75"/>
<circle cx="1343.54" cy="171.69" r="5.75"/>
<circle cx="1344.89" cy="170.6" r="5.75"/>
<circle cx="1346.25" cy="170.53" r="5.75"/>
<circle cx="1347.6" cy="166.02" r="5.75"/>
<circle cx="1348.96" cy="207.99" r="5.75"/>
<circle cx="1350.32" cy="239.12" r="5.75"/>
<circle cx="1351.67" cy="190.32" r="5.75"/>
<circle cx="1353.03" cy="183.84" r="5.75"/>
<circle cx="1354.38" cy="192.02" r="5.75"/>
<circle cx="1355.74" cy="193.51" r="5.75"/>
<circle cx="1357.09" cy="186.27" r="5.75"/>
<circle cx="1358.45" cy="213.91" r="5.75"/>
<circle cx="1359.81" cy="251.07" r="5.75"/>
<circle cx="1361.16" cy="198.42" r="5.75"/>
<circle cx="1362.52" cy="207.05" r="5.75"/>
<circle cx="1363.87" cy="192.8" r="5.75"/>
<circle cx="1365.23" cy="175.34" r="5.75"/>
<circle cx="1366.58" cy="186.32" r="5.75"/>
<circle cx="1367.94" cy="216.12" r="5.75"/>
<circle cx="1369.29" cy="251.07" r="5.75"/>
<circle cx="1370.65" cy="190.32" r="5.75"/>
<circle cx="1372.01" cy="181.41" r="5.75"/>
<circle cx="1373.36" cy="182.62" r="5.75"/>
<circle cx="1374.72" cy="179.83" r="5.75"/>
<circle cx="1376.07" cy="166.02" r="5.75"/>
<circle cx="1377.43" cy="208.74" r="5.75"/>
<circle cx="1378.78" cy="252.29" r="5.75"/>
<circle cx="1380.14" cy="186.27" r="5.75"/>
<circle cx="1381.49" cy="170.48" r="5.75"/>
<circle cx="1382.85" cy="181.47" r="5.75"/>
<circle cx="1384.21" cy="172.91" r="5.75"/>
<circle cx="1385.56" cy="190.52" r="5.75"/>
<circle cx="1386.92" cy="210.04" r="5.75"/>
<circle cx="1388.27" cy="254.72" r="5.75"/>
<circle cx="1389.63" cy="190.32" r="5.75"/>
<circle cx="1390.98" cy="190.11" r="5.75"/>
<circle cx="1392.34" cy="179.12" r="5.75"/>
<circle cx="1393.7" cy="162.38" r="5.75"/>
<circle cx="1396.41" cy="208.5" r="5.75"/>
<circle cx="1397.76" cy="248.64" r="5.75"/>
<circle cx="1399.12" cy="190.32" r="5.75"/>
<circle cx="1400.47" cy="200.05" r="5.75"/>
<circle cx="1401.83" cy="182.62" r="5.75"/>
<circle cx="1403.18" cy="193.93" r="5.75"/>
<circle cx="1404.54" cy="194.37" r="5.75"/>
<circle cx="1405.9" cy="225.69" r="5.75"/>
<circle cx="1407.25" cy="258.36" r="5.75"/>
<circle cx="1408.61" cy="205.1" r="5.75"/>
<circle cx="1409.96" cy="194.89" r="5.75"/>
<circle cx="1411.32" cy="182.34" r="5.75"/>
<circle cx="1412.67" cy="171.69" r="5.75"/>
<circle cx="1414.03" cy="186.27" r="5.75"/>
<circle cx="1415.39" cy="210.83" r="5.75"/>
<circle cx="1416.74" cy="243.78" r="5.75"/>
<circle cx="1418.1" cy="187.54" r="5.75"/>
<circle cx="1419.45" cy="174.53" r="5.75"/>
<circle cx="1420.81" cy="188.26" r="5.75"/>
<circle cx="1422.16" cy="193.98" r="5.75"/>
<circle cx="1423.52" cy="190.32" r="5.75"/>
<circle cx="1424.87" cy="213.38" r="5.75"/>
<circle cx="1426.23" cy="253.5" r="5.75"/>
<circle cx="1427.59" cy="200.7" r="5.75"/>
<circle cx="1428.94" cy="175.34" r="5.75"/>
<circle cx="1430.3" cy="187.09" r="5.75"/>
<circle cx="1431.65" cy="191.41" r="5.75"/>
<circle cx="1433.01" cy="190.32" r="5.75"/>
<circle cx="1434.36" cy="220.15" r="5.75"/>
<circle cx="1435.72" cy="259.57" r="5.75"/>
<circle cx="1437.07" cy="201.93" r="5.75"/>
<circle cx="1438.43" cy="190.19" r="5.75"/>
<circle cx="1439.79" cy="173.72" r="5.75"/>
<circle cx="1441.14" cy="178.03" r="5.75"/>
<circle cx="1442.5" cy="190.32" r="5.75"/>
<circle cx="1443.85" cy="214.4" r="5.75"/>
<circle cx="1445.21" cy="254.72" r="5.75"/>
<circle cx="1446.56" cy="205.13" r="5.75"/>
<circle cx="1447.92" cy="196.18" r="5.75"/>
<circle cx="1449.28" cy="185.02" r="5.75"/>
<circle cx="1450.63" cy="180.19" r="5.75"/>
<circle cx="1451.99" cy="194.38" r="5.75"/>
<circle cx="1453.34" cy="227.27" r="5.75"/>
<circle cx="1454.7" cy="278.61" r="5.75"/>
<circle cx="1457.41" cy="198.11" r="5.75"/>
<circle cx="1458.76" cy="192.49" r="5.75"/>
<circle cx="1460.12" cy="181.28" r="5.75"/>
<circle cx="1461.48" cy="178.98" r="5.75"/>
<circle cx="1462.83" cy="213.07" r="5.75"/>
<circle cx="1464.19" cy="249.86" r="5.75"/>
<circle cx="1465.54" cy="186.27" r="5.75"/>
<circle cx="1466.9" cy="175.34" r="5.75"/>
<circle cx="1468.25" cy="186.8" r="5.75"/>
<circle cx="1469.61" cy="184.61" r="5.75"/>
<circle cx="1470.97" cy="187.28" r="5.75"/>
<circle cx="1472.32" cy="220.41" r="5.75"/>
<circle cx="1473.68" cy="242.77" r="5.75"/>
<circle cx="1475.03" cy="198.42" r="5.75"/>
<circle cx="1476.39" cy="211.25" r="5.75"/>
<circle cx="1477.74" cy="194.81" r="5.75"/>
<circle cx="1479.1" cy="199.12" r="5.75"/>
<circle cx="1480.45" cy="189.11" r="5.75"/>
<circle cx="1481.81" cy="209.16" r="5.75"/>
<circle cx="1483.17" cy="219.89" r="5.75"/>
<circle cx="1484.52" cy="199.23" r="5.75"/>
<circle cx="1485.88" cy="277.8" r="5.75"/>
<circle cx="1491.3" cy="289.95" r="5.75"/>
<circle cx="1492.65" cy="225.96" r="5.75"/>
<circle cx="1494.01" cy="234.87" r="5.75"/>
<circle cx="1495.37" cy="212.19" r="5.75"/>
<circle cx="1496.72" cy="215.02" r="5.75"/>
<circle cx="1498.08" cy="208.55" r="5.75"/>
<circle cx="1499.43" cy="218.5" r="5.75"/>
<circle cx="1500.79" cy="243.53" r="5.75"/>
<circle cx="1502.14" cy="266.06" r="5.75"/>
<circle cx="1503.5" cy="222.72" r="5.75"/>
<circle cx="1504.86" cy="212.19" r="5.75"/>
<circle cx="1506.21" cy="216.94" r="5.75"/>
<circle cx="1507.57" cy="215.84" r="5.75"/>
<circle cx="1508.92" cy="225.71" r="5.75"/>
<circle cx="1510.28" cy="245.34" r="5.75"/>
<circle cx="1511.63" cy="281.04" r="5.75"/>
<circle cx="1512.99" cy="226.77" r="5.75"/>
<circle cx="1514.34" cy="225.99" r="5.75"/>
<circle cx="1515.7" cy="212.51" r="5.75"/>
<circle cx="1517.06" cy="198.83" r="5.75"/>
<circle cx="1518.41" cy="209.24" r="5.75"/>
<circle cx="1519.77" cy="240.11" r="5.75"/>
<circle cx="1521.12" cy="271.32" r="5.75"/>
<circle cx="1522.48" cy="218.67" r="5.75"/>
<circle cx="1523.83" cy="225.21" r="5.75"/>
<circle cx="1525.19" cy="218.74" r="5.75"/>
<circle cx="1526.55" cy="210.98" r="5.75"/>
<circle cx="1527.9" cy="228.98" r="5.75"/>
<circle cx="1529.26" cy="244.47" r="5.75"/>
<circle cx="1530.61" cy="282.25" r="5.75"/>
<circle cx="1531.97" cy="222.72" r="5.75"/>
<circle cx="1533.32" cy="216.88" r="5.75"/>
<circle cx="1534.68" cy="207.98" r="5.75"/>
<circle cx="1536.03" cy="202.76" r="5.75"/>
<circle cx="1537.39" cy="195.99" r="5.75"/>
<circle cx="1538.75" cy="234.47" r="5.75"/>
<circle cx="1540.1" cy="260.59" r="5.75"/>
<circle cx="1541.46" cy="214.62" r="5.75"/>
<circle cx="1542.81" cy="204" r="5.75"/>
<circle cx="1544.17" cy="185.46" r="5.75"/>
<circle cx="1545.52" cy="200.04" r="5.75"/>
<circle cx="1546.88" cy="210.57" r="5.75"/>
<circle cx="1548.23" cy="245.47" r="5.75"/>
<circle cx="1549.59" cy="294.2" r="5.75"/>
<circle cx="1550.95" cy="227.77" r="5.75"/>
<circle cx="1552.3" cy="205.71" r="5.75"/>
<circle cx="1553.66" cy="218.27" r="5.75"/>
<circle cx="1555.01" cy="226.54" r="5.75"/>
<circle cx="1556.37" cy="222.72" r="5.75"/>
<circle cx="1557.72" cy="247.82" r="5.75"/>
<circle cx="1559.08" cy="291.77" r="5.75"/>
<circle cx="1560.44" cy="220.7" r="5.75"/>
<circle cx="1561.79" cy="233.51" r="5.75"/>
<circle cx="1563.15" cy="232.15" r="5.75"/>
<circle cx="1564.5" cy="220.7" r="5.75"/>
<circle cx="1565.86" cy="228.81" r="5.75"/>
<circle cx="1567.21" cy="248.25" r="5.75"/>
<circle cx="1568.57" cy="302.5" r="5.75"/>
<circle cx="1569.92" cy="214.62" r="5.75"/>
<circle cx="1571.28" cy="203.05" r="5.75"/>
<circle cx="1572.64" cy="171.29" r="5.75"/>
<circle cx="1573.99" cy="180.35" r="5.75"/>
<circle cx="1575.35" cy="198.42" r="5.75"/>
<circle cx="1576.7" cy="216.79" r="5.75"/>
<circle cx="1578.06" cy="229.61" r="5.75"/>
<circle cx="1579.41" cy="202.47" r="5.75"/>
<circle cx="1580.77" cy="213.43" r="5.75"/>
<circle cx="1582.13" cy="207.33" r="5.75"/>
<circle cx="1583.48" cy="188.27" r="5.75"/>
<circle cx="1584.84" cy="171.29" r="5.75"/>
<circle cx="1586.19" cy="204.28" r="5.75"/>
<circle cx="1587.55" cy="247.43" r="5.75"/>
<circle cx="1588.9" cy="181.41" r="5.75"/>
<circle cx="1590.26" cy="181.39" r="5.75"/>
<circle cx="1591.61" cy="174.25" r="5.75"/>
<circle cx="1592.97" cy="162.24" r="5.75"/>
<circle cx="1594.33" cy="149.01" r="5.75"/>
<circle cx="1595.68" cy="202.09" r="5.75"/>
<circle cx="1597.04" cy="245" r="5.75"/>
<circle cx="1598.39" cy="174.12" r="5.75"/>
<circle cx="1599.75" cy="152.25" r="5.75"/>
<circle cx="1601.1" cy="173.12" r="5.75"/>
<circle cx="1602.46" cy="174.12" r="5.75"/>
<circle cx="1603.81" cy="177.77" r="5.75"/>
<circle cx="1605.17" cy="201.13" r="5.75"/>
<circle cx="1606.53" cy="213.81" r="5.75"/>
<circle cx="1607.88" cy="198.02" r="5.75"/>
<circle cx="1609.24" cy="251.07" r="5.75"/>
<circle cx="1610.59" cy="249.45" r="5.75"/>
  </g>
  <!-- zero reference line -->
  <rect x="126" y="236.82" width="1485" height="1.18" fill="#ffffff"/>

  <!-- data cursor marker -->
  <circle cx="859.8" cy="115.5" r="4.75" fill="#2b2b2b" stroke="#fffdee" stroke-width="2.2"/>

  <!-- x tick labels -->
  <g class="lbl tick" text-anchor="middle">
    <text x="260.4" y="578.9">100</text>
    <text x="396" y="578.9">200</text>
    <text x="531.5" y="578.9">300</text>
    <text x="667.1" y="578.9">400</text>
    <text x="802.6" y="578.9">500</text>
    <text x="938.2" y="578.9">600</text>
    <text x="1073.8" y="578.9">700</text>
    <text x="1209.3" y="578.9">800</text>
    <text x="1344.9" y="578.9">900</text>
    <text x="1480.4" y="578.9">1000</text>
  </g>
  <!-- y tick labels -->
  <g class="lbl tick" text-anchor="end">
    <text x="117.4" y="82.8">4000</text>
    <text x="117.4" y="163.8">2000</text>
    <text x="117.4" y="244.8">0</text>
    <text x="117.4" y="325.8">-2000</text>
    <text x="117.4" y="406.8">-4000</text>
    <text x="117.4" y="487.8">-6000</text>
  </g>

  <!-- axis labels and title -->
  <text class="lbl axl" text-anchor="middle" x="868.9" y="609">Case Number</text>
  <text class="lbl axl" text-anchor="middle" transform="translate(54.1 292.7) rotate(-90)">Residuals</text>
  <text class="ttl" text-anchor="middle" x="869.2" y="28.3">残差图</text>

  <!-- axes toolbar icons -->
  <g id="toolbar">
    <!-- brush -->
    <path class="icf" d="M1456.9 8.2 L1458.5 9.9 L1446.6 25.2 L1442.8 21.7 Z"/>
    <path class="icf" d="M1441.9 22.9 C1439 22.4 1436.9 24.6 1436.9 27.2 C1436.9 29.6 1435.4 30.9 1434 31.9 C1438.5 32.4 1442.8 31.3 1444.4 28.5 C1445.4 26.6 1444.2 24.2 1441.9 22.9 Z"/>
    <!-- data tips -->
    <path class="icb" d="M1469.6 10.4 H1487.1 V29.5 H1469.6 V22.6 L1464.9 20 L1469.6 17.3 Z"/>
    <path class="icb" d="M1473.2 17.7 H1483.2 M1473.2 22.3 H1483.2"/>
    <!-- pan (hand) -->
    <path class="ico" style="stroke-width:1.55" d="M1502.3 31.05 L1513.6 31.05 L1514.5 28.9 L1517.6 14.9 Q1517.8 12.7 1516.2 12.8 Q1515.2 12.9 1514.8 14 L1512.4 18.3 L1513.4 11.4 Q1513.3 9.7 1511.6 9.8 Q1510.3 9.9 1510 11 L1508.6 17.8 L1508.5 9.9 Q1508.3 8.5 1506.6 8.55 Q1504.9 8.6 1504.7 9.9 L1504.8 17.8 L1503.1 11 Q1502.6 9.5 1501.1 9.75 Q1499.5 10.1 1499.6 11.5 L1501.7 21.4 L1499.9 19.6 L1497.5 17.4 Q1496.2 16.9 1495.1 17.8 Q1494 18.9 1494.9 20.1 L1497.8 23.25 Z"/>
    <!-- zoom in -->
    <circle class="ico" cx="1534.5" cy="17.55" r="8.75"/>
    <path class="icb" d="M1529 17.55 H1540 M1534.5 12.6 V22.8"/>
    <path class="ico" d="M1541 25 L1546.7 31.3"/>
    <!-- zoom out -->
    <circle class="ico" cx="1564.4" cy="17.55" r="8.75"/>
    <path class="icb" d="M1559.2 17.55 H1569.9"/>
    <path class="ico" d="M1570.9 25 L1576.6 31.3"/>
    <!-- restore view (home) -->
    <path class="ico" style="stroke-linejoin:miter" d="M1584.6 20.2 L1595.95 8.9 L1607.4 20.4"/>
    <path class="icb" d="M1587.8 20.2 V31.2 H1593.7 V23.7 H1598.5 V31.2 H1604.4 V20.2"/>
    <path class="icf" d="M1600.8 9.7 H1605.2 V13.9 Z"/>
  </g>
</svg>
</body>
</html>
